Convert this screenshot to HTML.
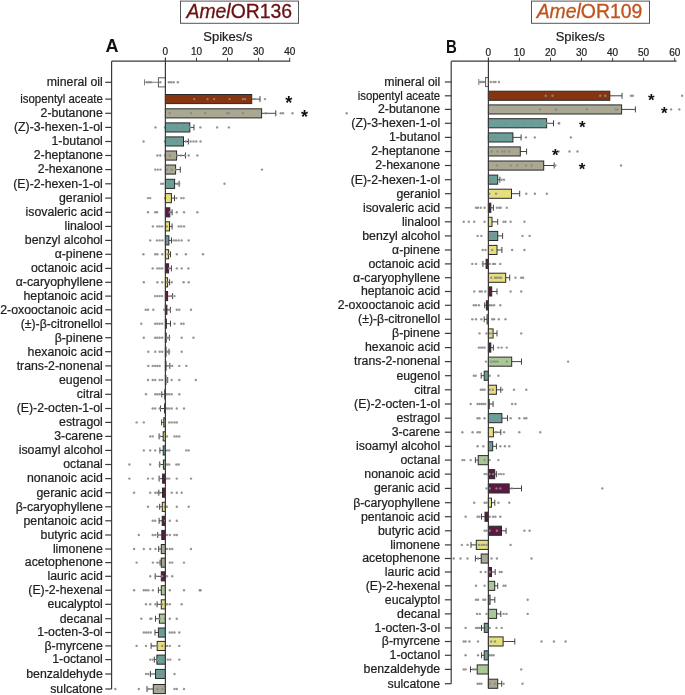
<!DOCTYPE html>
<html><head><meta charset="utf-8"><style>
html,body{margin:0;padding:0;background:#fff;}
svg{display:block;filter:blur(0.3px);font-family:"Liberation Sans",sans-serif;}
text.l{stroke:#1e1e1e;stroke-width:0.22px;}
</style></head><body>
<svg width="685" height="695" viewBox="0 0 685 695">
<rect x="0" y="0" width="685" height="695" fill="#fff"/>
<rect x="180.5" y="1.1" width="118" height="22.2" fill="#fff" stroke="#555" stroke-width="1"/>
<text x="239.3" y="18.2" text-anchor="middle" font-size="19.4" fill="#6a1010" stroke="#6a1010" stroke-width="0.3"><tspan font-style="italic">Amel</tspan>OR136</text>
<rect x="531.5" y="1.1" width="118" height="22.2" fill="#fff" stroke="#555" stroke-width="1"/>
<text x="589.5" y="18.2" text-anchor="middle" font-size="19.4" fill="#c0531c" stroke="#c0531c" stroke-width="0.3"><tspan font-style="italic">Amel</tspan>OR109</text>
<text x="105.5" y="52.3" font-size="18" font-weight="bold" fill="#111">A</text>
<text transform="matrix(0.83,0,0,1,75.82,0)" x="446" y="52.8" font-size="18" font-weight="bold" fill="#111">B</text>
<text x="227.9" y="40.8" text-anchor="middle" font-size="13" fill="#1e1e1e" class="l">Spikes/s</text>
<text x="580.2" y="41.1" text-anchor="middle" font-size="13" fill="#1e1e1e" class="l">Spikes/s</text>
<line x1="158.4" y1="82.3" x2="144.5" y2="82.3" stroke="#777" stroke-width="0.95"/>
<line x1="144.5" y1="79.3" x2="144.5" y2="85.3" stroke="#777" stroke-width="0.95"/>
<rect x="158.4" y="77.8" width="7.0" height="9.1" fill="#ffffff" stroke="#5a5a5a" stroke-width="1"/>
<line x1="251.7" y1="99.1" x2="260.0" y2="99.1" stroke="#3a3a3a" stroke-width="0.95"/>
<line x1="260.0" y1="96.1" x2="260.0" y2="102.1" stroke="#3a3a3a" stroke-width="0.95"/>
<rect x="165.4" y="94.5" width="86.3" height="9.1" fill="#873510" stroke="#2a2a2a" stroke-width="1"/>
<line x1="261.6" y1="113.3" x2="275.8" y2="113.3" stroke="#3a3a3a" stroke-width="0.95"/>
<line x1="275.8" y1="110.3" x2="275.8" y2="116.3" stroke="#3a3a3a" stroke-width="0.95"/>
<rect x="165.4" y="108.8" width="96.2" height="9.1" fill="#aaa892" stroke="#2a2a2a" stroke-width="1"/>
<line x1="189.8" y1="127.4" x2="194.0" y2="127.4" stroke="#3a3a3a" stroke-width="0.95"/>
<line x1="194.0" y1="124.4" x2="194.0" y2="130.4" stroke="#3a3a3a" stroke-width="0.95"/>
<rect x="165.4" y="122.9" width="24.4" height="9.1" fill="#6a9e98" stroke="#2a2a2a" stroke-width="1"/>
<line x1="183.5" y1="141.5" x2="188.3" y2="141.5" stroke="#3a3a3a" stroke-width="0.95"/>
<line x1="188.3" y1="138.5" x2="188.3" y2="144.5" stroke="#3a3a3a" stroke-width="0.95"/>
<rect x="165.4" y="136.9" width="18.1" height="9.1" fill="#6a9e98" stroke="#2a2a2a" stroke-width="1"/>
<line x1="176.6" y1="155.5" x2="185.5" y2="155.5" stroke="#3a3a3a" stroke-width="0.95"/>
<line x1="185.5" y1="152.5" x2="185.5" y2="158.5" stroke="#3a3a3a" stroke-width="0.95"/>
<rect x="165.4" y="151.0" width="11.2" height="9.1" fill="#aaa892" stroke="#2a2a2a" stroke-width="1"/>
<line x1="175.6" y1="169.6" x2="180.3" y2="169.6" stroke="#3a3a3a" stroke-width="0.95"/>
<line x1="180.3" y1="166.6" x2="180.3" y2="172.6" stroke="#3a3a3a" stroke-width="0.95"/>
<rect x="165.4" y="165.0" width="10.2" height="9.1" fill="#aaa892" stroke="#2a2a2a" stroke-width="1"/>
<line x1="174.6" y1="183.8" x2="179.1" y2="183.8" stroke="#3a3a3a" stroke-width="0.95"/>
<line x1="179.1" y1="180.8" x2="179.1" y2="186.8" stroke="#3a3a3a" stroke-width="0.95"/>
<rect x="165.4" y="179.3" width="9.2" height="9.1" fill="#6a9e98" stroke="#2a2a2a" stroke-width="1"/>
<line x1="171.4" y1="198.1" x2="174.5" y2="198.1" stroke="#3a3a3a" stroke-width="0.95"/>
<line x1="174.5" y1="195.1" x2="174.5" y2="201.1" stroke="#3a3a3a" stroke-width="0.95"/>
<rect x="165.4" y="193.6" width="6.0" height="9.1" fill="#e6e07c" stroke="#2a2a2a" stroke-width="1"/>
<line x1="169.8" y1="212.3" x2="172.1" y2="212.3" stroke="#3a3a3a" stroke-width="0.95"/>
<line x1="172.1" y1="209.3" x2="172.1" y2="215.3" stroke="#3a3a3a" stroke-width="0.95"/>
<rect x="165.4" y="207.8" width="4.4" height="9.1" fill="#5c1a40" stroke="#2a2a2a" stroke-width="1"/>
<line x1="169.5" y1="226.4" x2="172.1" y2="226.4" stroke="#3a3a3a" stroke-width="0.95"/>
<line x1="172.1" y1="223.4" x2="172.1" y2="229.4" stroke="#3a3a3a" stroke-width="0.95"/>
<rect x="165.4" y="221.8" width="4.1" height="9.1" fill="#e6e07c" stroke="#2a2a2a" stroke-width="1"/>
<line x1="168.9" y1="240.4" x2="171.5" y2="240.4" stroke="#3a3a3a" stroke-width="0.95"/>
<line x1="171.5" y1="237.4" x2="171.5" y2="243.4" stroke="#3a3a3a" stroke-width="0.95"/>
<rect x="165.4" y="235.8" width="3.5" height="9.1" fill="#6a9e98" stroke="#2a2a2a" stroke-width="1"/>
<line x1="168.6" y1="254.3" x2="170.5" y2="254.3" stroke="#3a3a3a" stroke-width="0.95"/>
<line x1="170.5" y1="251.3" x2="170.5" y2="257.3" stroke="#3a3a3a" stroke-width="0.95"/>
<rect x="165.4" y="249.7" width="3.2" height="9.1" fill="#e6e07c" stroke="#2a2a2a" stroke-width="1"/>
<line x1="168.6" y1="268.4" x2="171.4" y2="268.4" stroke="#3a3a3a" stroke-width="0.95"/>
<line x1="171.4" y1="265.4" x2="171.4" y2="271.4" stroke="#3a3a3a" stroke-width="0.95"/>
<rect x="165.4" y="263.8" width="3.2" height="9.1" fill="#5c1a40" stroke="#2a2a2a" stroke-width="1"/>
<line x1="167.6" y1="282.3" x2="169.6" y2="282.3" stroke="#3a3a3a" stroke-width="0.95"/>
<line x1="169.6" y1="279.3" x2="169.6" y2="285.3" stroke="#3a3a3a" stroke-width="0.95"/>
<rect x="165.4" y="277.8" width="2.2" height="9.1" fill="#e6e07c" stroke="#2a2a2a" stroke-width="1"/>
<line x1="167.6" y1="296.1" x2="172.6" y2="296.1" stroke="#3a3a3a" stroke-width="0.95"/>
<line x1="172.6" y1="293.1" x2="172.6" y2="299.1" stroke="#3a3a3a" stroke-width="0.95"/>
<rect x="165.4" y="291.5" width="2.2" height="9.1" fill="#5c1a40" stroke="#2a2a2a" stroke-width="1"/>
<line x1="166.9" y1="309.8" x2="170.4" y2="309.8" stroke="#3a3a3a" stroke-width="0.95"/>
<line x1="170.4" y1="306.8" x2="170.4" y2="312.8" stroke="#3a3a3a" stroke-width="0.95"/>
<rect x="165.4" y="305.2" width="1.5" height="9.1" fill="#5c1a40" stroke="#2a2a2a" stroke-width="1"/>
<line x1="166.4" y1="323.7" x2="170.5" y2="323.7" stroke="#3a3a3a" stroke-width="0.95"/>
<line x1="170.5" y1="320.7" x2="170.5" y2="326.7" stroke="#3a3a3a" stroke-width="0.95"/>
<rect x="165.4" y="319.1" width="1.0" height="9.1" fill="#c9c47a" stroke="#2a2a2a" stroke-width="1"/>
<line x1="166.2" y1="337.7" x2="169.4" y2="337.7" stroke="#3a3a3a" stroke-width="0.95"/>
<line x1="169.4" y1="334.7" x2="169.4" y2="340.7" stroke="#3a3a3a" stroke-width="0.95"/>
<rect x="165.4" y="333.1" width="0.8" height="9.1" fill="#e6e07c" stroke="#2a2a2a" stroke-width="1"/>
<line x1="166.0" y1="351.7" x2="169.0" y2="351.7" stroke="#3a3a3a" stroke-width="0.95"/>
<line x1="169.0" y1="348.7" x2="169.0" y2="354.7" stroke="#3a3a3a" stroke-width="0.95"/>
<rect x="165.4" y="347.2" width="0.6" height="9.1" fill="#5c1a40" stroke="#2a2a2a" stroke-width="1"/>
<line x1="166.0" y1="365.9" x2="169.8" y2="365.9" stroke="#3a3a3a" stroke-width="0.95"/>
<line x1="169.8" y1="362.9" x2="169.8" y2="368.9" stroke="#3a3a3a" stroke-width="0.95"/>
<rect x="165.4" y="361.3" width="0.6" height="9.1" fill="#abc796" stroke="#2a2a2a" stroke-width="1"/>
<line x1="165.9" y1="380.0" x2="167.7" y2="380.0" stroke="#3a3a3a" stroke-width="0.95"/>
<line x1="167.7" y1="377.0" x2="167.7" y2="383.0" stroke="#3a3a3a" stroke-width="0.95"/>
<rect x="165.4" y="375.4" width="0.5" height="9.1" fill="#6a9e98" stroke="#2a2a2a" stroke-width="1"/>
<line x1="164.8" y1="394.3" x2="161.8" y2="394.3" stroke="#3a3a3a" stroke-width="0.95"/>
<line x1="161.8" y1="391.3" x2="161.8" y2="397.3" stroke="#3a3a3a" stroke-width="0.95"/>
<rect x="164.8" y="389.8" width="0.6" height="9.1" fill="#e6e07c" stroke="#2a2a2a" stroke-width="1"/>
<line x1="164.6" y1="408.5" x2="160.5" y2="408.5" stroke="#3a3a3a" stroke-width="0.95"/>
<line x1="160.5" y1="405.5" x2="160.5" y2="411.5" stroke="#3a3a3a" stroke-width="0.95"/>
<rect x="164.6" y="403.9" width="0.8" height="9.1" fill="#6a9e98" stroke="#2a2a2a" stroke-width="1"/>
<line x1="163.8" y1="422.4" x2="161.6" y2="422.4" stroke="#3a3a3a" stroke-width="0.95"/>
<line x1="161.6" y1="419.4" x2="161.6" y2="425.4" stroke="#3a3a3a" stroke-width="0.95"/>
<rect x="163.8" y="417.8" width="1.6" height="9.1" fill="#c9c47a" stroke="#2a2a2a" stroke-width="1"/>
<line x1="163.2" y1="436.4" x2="159.1" y2="436.4" stroke="#3a3a3a" stroke-width="0.95"/>
<line x1="159.1" y1="433.4" x2="159.1" y2="439.4" stroke="#3a3a3a" stroke-width="0.95"/>
<rect x="163.2" y="431.8" width="2.2" height="9.1" fill="#e6e07c" stroke="#2a2a2a" stroke-width="1"/>
<line x1="163.2" y1="450.4" x2="159.9" y2="450.4" stroke="#3a3a3a" stroke-width="0.95"/>
<line x1="159.9" y1="447.4" x2="159.9" y2="453.4" stroke="#3a3a3a" stroke-width="0.95"/>
<rect x="163.2" y="445.9" width="2.2" height="9.1" fill="#6a9e98" stroke="#2a2a2a" stroke-width="1"/>
<line x1="163.4" y1="464.5" x2="159.7" y2="464.5" stroke="#3a3a3a" stroke-width="0.95"/>
<line x1="159.7" y1="461.5" x2="159.7" y2="467.5" stroke="#3a3a3a" stroke-width="0.95"/>
<rect x="163.4" y="460.0" width="2.0" height="9.1" fill="#abc796" stroke="#2a2a2a" stroke-width="1"/>
<line x1="162.6" y1="478.6" x2="159.1" y2="478.6" stroke="#3a3a3a" stroke-width="0.95"/>
<line x1="159.1" y1="475.6" x2="159.1" y2="481.6" stroke="#3a3a3a" stroke-width="0.95"/>
<rect x="162.6" y="474.1" width="2.8" height="9.1" fill="#5c1a40" stroke="#2a2a2a" stroke-width="1"/>
<line x1="162.5" y1="492.7" x2="158.8" y2="492.7" stroke="#3a3a3a" stroke-width="0.95"/>
<line x1="158.8" y1="489.7" x2="158.8" y2="495.7" stroke="#3a3a3a" stroke-width="0.95"/>
<rect x="162.5" y="488.1" width="2.9" height="9.1" fill="#5c1a40" stroke="#2a2a2a" stroke-width="1"/>
<line x1="162.3" y1="506.8" x2="159.7" y2="506.8" stroke="#3a3a3a" stroke-width="0.95"/>
<line x1="159.7" y1="503.8" x2="159.7" y2="509.8" stroke="#3a3a3a" stroke-width="0.95"/>
<rect x="162.3" y="502.3" width="3.1" height="9.1" fill="#e6e07c" stroke="#2a2a2a" stroke-width="1"/>
<line x1="162.2" y1="520.8" x2="159.1" y2="520.8" stroke="#3a3a3a" stroke-width="0.95"/>
<line x1="159.1" y1="517.8" x2="159.1" y2="523.8" stroke="#3a3a3a" stroke-width="0.95"/>
<rect x="162.2" y="516.3" width="3.2" height="9.1" fill="#5c1a40" stroke="#2a2a2a" stroke-width="1"/>
<line x1="161.8" y1="535.0" x2="157.7" y2="535.0" stroke="#3a3a3a" stroke-width="0.95"/>
<line x1="157.7" y1="532.0" x2="157.7" y2="538.0" stroke="#3a3a3a" stroke-width="0.95"/>
<rect x="161.8" y="530.4" width="3.6" height="9.1" fill="#5c1a40" stroke="#2a2a2a" stroke-width="1"/>
<line x1="161.3" y1="549.0" x2="158.7" y2="549.0" stroke="#3a3a3a" stroke-width="0.95"/>
<line x1="158.7" y1="546.0" x2="158.7" y2="552.0" stroke="#3a3a3a" stroke-width="0.95"/>
<rect x="161.3" y="544.5" width="4.1" height="9.1" fill="#aaa892" stroke="#2a2a2a" stroke-width="1"/>
<line x1="161.3" y1="562.6" x2="160.1" y2="562.6" stroke="#3a3a3a" stroke-width="0.95"/>
<line x1="160.1" y1="559.6" x2="160.1" y2="565.6" stroke="#3a3a3a" stroke-width="0.95"/>
<rect x="161.3" y="558.1" width="4.1" height="9.1" fill="#aaa892" stroke="#2a2a2a" stroke-width="1"/>
<line x1="161.3" y1="576.3" x2="155.2" y2="576.3" stroke="#3a3a3a" stroke-width="0.95"/>
<line x1="155.2" y1="573.3" x2="155.2" y2="579.3" stroke="#3a3a3a" stroke-width="0.95"/>
<rect x="161.3" y="571.8" width="4.1" height="9.1" fill="#5c1a40" stroke="#2a2a2a" stroke-width="1"/>
<line x1="161.3" y1="590.2" x2="158.4" y2="590.2" stroke="#3a3a3a" stroke-width="0.95"/>
<line x1="158.4" y1="587.2" x2="158.4" y2="593.2" stroke="#3a3a3a" stroke-width="0.95"/>
<rect x="161.3" y="585.7" width="4.1" height="9.1" fill="#abc796" stroke="#2a2a2a" stroke-width="1"/>
<line x1="161.3" y1="604.3" x2="157.1" y2="604.3" stroke="#3a3a3a" stroke-width="0.95"/>
<line x1="157.1" y1="601.3" x2="157.1" y2="607.3" stroke="#3a3a3a" stroke-width="0.95"/>
<rect x="161.3" y="599.8" width="4.1" height="9.1" fill="#e6e07c" stroke="#2a2a2a" stroke-width="1"/>
<line x1="159.4" y1="618.7" x2="155.5" y2="618.7" stroke="#3a3a3a" stroke-width="0.95"/>
<line x1="155.5" y1="615.7" x2="155.5" y2="621.7" stroke="#3a3a3a" stroke-width="0.95"/>
<rect x="159.4" y="614.1" width="6.0" height="9.1" fill="#abc796" stroke="#2a2a2a" stroke-width="1"/>
<line x1="158.4" y1="632.5" x2="155.0" y2="632.5" stroke="#3a3a3a" stroke-width="0.95"/>
<line x1="155.0" y1="629.5" x2="155.0" y2="635.5" stroke="#3a3a3a" stroke-width="0.95"/>
<rect x="158.4" y="628.0" width="7.0" height="9.1" fill="#6a9e98" stroke="#2a2a2a" stroke-width="1"/>
<line x1="157.2" y1="645.9" x2="151.1" y2="645.9" stroke="#3a3a3a" stroke-width="0.95"/>
<line x1="151.1" y1="642.9" x2="151.1" y2="648.9" stroke="#3a3a3a" stroke-width="0.95"/>
<rect x="157.2" y="641.4" width="8.2" height="9.1" fill="#e6e07c" stroke="#2a2a2a" stroke-width="1"/>
<line x1="156.9" y1="659.6" x2="154.3" y2="659.6" stroke="#3a3a3a" stroke-width="0.95"/>
<line x1="154.3" y1="656.6" x2="154.3" y2="662.6" stroke="#3a3a3a" stroke-width="0.95"/>
<rect x="156.9" y="655.1" width="8.5" height="9.1" fill="#6a9e98" stroke="#2a2a2a" stroke-width="1"/>
<line x1="155.5" y1="674.0" x2="150.4" y2="674.0" stroke="#3a3a3a" stroke-width="0.95"/>
<line x1="150.4" y1="671.0" x2="150.4" y2="677.0" stroke="#3a3a3a" stroke-width="0.95"/>
<rect x="155.5" y="669.4" width="9.9" height="9.1" fill="#6a9e98" stroke="#2a2a2a" stroke-width="1"/>
<line x1="153.3" y1="689.0" x2="147.0" y2="689.0" stroke="#3a3a3a" stroke-width="0.95"/>
<line x1="147.0" y1="686.0" x2="147.0" y2="692.0" stroke="#3a3a3a" stroke-width="0.95"/>
<rect x="153.3" y="684.5" width="12.1" height="9.1" fill="#aaa892" stroke="#2a2a2a" stroke-width="1"/>
<circle cx="147.0" cy="82.3" r="1.2" fill="#8a8a8a" fill-opacity="0.9"/>
<circle cx="149.0" cy="82.3" r="1.2" fill="#8a8a8a" fill-opacity="0.9"/>
<circle cx="150.8" cy="82.3" r="1.2" fill="#8a8a8a" fill-opacity="0.9"/>
<circle cx="160.3" cy="82.3" r="1.2" fill="#8a8a8a" fill-opacity="0.9"/>
<circle cx="168.8" cy="82.3" r="1.2" fill="#8a8a8a" fill-opacity="0.9"/>
<circle cx="171.1" cy="82.3" r="1.2" fill="#8a8a8a" fill-opacity="0.9"/>
<circle cx="173.6" cy="82.3" r="1.2" fill="#8a8a8a" fill-opacity="0.9"/>
<circle cx="177.9" cy="82.3" r="1.2" fill="#8a8a8a" fill-opacity="0.9"/>
<circle cx="194.2" cy="99.1" r="1.2" fill="#8a8a8a" fill-opacity="0.9"/>
<circle cx="207.5" cy="99.1" r="1.2" fill="#8a8a8a" fill-opacity="0.9"/>
<circle cx="214.1" cy="99.1" r="1.2" fill="#8a8a8a" fill-opacity="0.9"/>
<circle cx="229.5" cy="99.1" r="1.2" fill="#8a8a8a" fill-opacity="0.9"/>
<circle cx="242.8" cy="99.1" r="1.2" fill="#8a8a8a" fill-opacity="0.9"/>
<circle cx="245.0" cy="99.1" r="1.2" fill="#8a8a8a" fill-opacity="0.9"/>
<circle cx="254.5" cy="99.1" r="1.2" fill="#8a8a8a" fill-opacity="0.9"/>
<circle cx="265.0" cy="99.1" r="1.2" fill="#8a8a8a" fill-opacity="0.9"/>
<circle cx="169.8" cy="113.3" r="1.2" fill="#8a8a8a" fill-opacity="0.9"/>
<circle cx="191.0" cy="113.3" r="1.2" fill="#8a8a8a" fill-opacity="0.9"/>
<circle cx="205.2" cy="113.3" r="1.2" fill="#8a8a8a" fill-opacity="0.9"/>
<circle cx="227.0" cy="113.3" r="1.2" fill="#8a8a8a" fill-opacity="0.9"/>
<circle cx="228.9" cy="113.3" r="1.2" fill="#8a8a8a" fill-opacity="0.9"/>
<circle cx="243.1" cy="113.3" r="1.2" fill="#8a8a8a" fill-opacity="0.9"/>
<circle cx="265.9" cy="113.3" r="1.2" fill="#8a8a8a" fill-opacity="0.9"/>
<circle cx="280.7" cy="113.3" r="1.2" fill="#8a8a8a" fill-opacity="0.9"/>
<circle cx="283.0" cy="113.3" r="1.2" fill="#8a8a8a" fill-opacity="0.9"/>
<circle cx="292.5" cy="113.3" r="1.2" fill="#8a8a8a" fill-opacity="0.9"/>
<circle cx="346.7" cy="113.3" r="1.2" fill="#8a8a8a" fill-opacity="0.9"/>
<circle cx="155.5" cy="127.4" r="1.2" fill="#8a8a8a" fill-opacity="0.9"/>
<circle cx="165.0" cy="127.4" r="1.2" fill="#8a8a8a" fill-opacity="0.9"/>
<circle cx="176.8" cy="127.4" r="1.2" fill="#8a8a8a" fill-opacity="0.9"/>
<circle cx="183.6" cy="127.4" r="1.2" fill="#8a8a8a" fill-opacity="0.9"/>
<circle cx="189.7" cy="127.4" r="1.2" fill="#8a8a8a" fill-opacity="0.9"/>
<circle cx="200.4" cy="127.4" r="1.2" fill="#8a8a8a" fill-opacity="0.9"/>
<circle cx="217.1" cy="127.4" r="1.2" fill="#8a8a8a" fill-opacity="0.9"/>
<circle cx="228.9" cy="127.4" r="1.2" fill="#8a8a8a" fill-opacity="0.9"/>
<circle cx="143.6" cy="141.5" r="1.2" fill="#8a8a8a" fill-opacity="0.9"/>
<circle cx="165.0" cy="141.5" r="1.2" fill="#8a8a8a" fill-opacity="0.9"/>
<circle cx="176.8" cy="141.5" r="1.2" fill="#8a8a8a" fill-opacity="0.9"/>
<circle cx="181.7" cy="141.5" r="1.2" fill="#8a8a8a" fill-opacity="0.9"/>
<circle cx="185.9" cy="141.5" r="1.2" fill="#8a8a8a" fill-opacity="0.9"/>
<circle cx="190.6" cy="141.5" r="1.2" fill="#8a8a8a" fill-opacity="0.9"/>
<circle cx="193.5" cy="141.5" r="1.2" fill="#8a8a8a" fill-opacity="0.9"/>
<circle cx="196.3" cy="141.5" r="1.2" fill="#8a8a8a" fill-opacity="0.9"/>
<circle cx="200.5" cy="141.5" r="1.2" fill="#8a8a8a" fill-opacity="0.9"/>
<circle cx="157.4" cy="155.5" r="1.2" fill="#8a8a8a" fill-opacity="0.9"/>
<circle cx="160.3" cy="155.5" r="1.2" fill="#8a8a8a" fill-opacity="0.9"/>
<circle cx="165.0" cy="155.5" r="1.2" fill="#8a8a8a" fill-opacity="0.9"/>
<circle cx="169.8" cy="155.5" r="1.2" fill="#8a8a8a" fill-opacity="0.9"/>
<circle cx="177.4" cy="155.5" r="1.2" fill="#8a8a8a" fill-opacity="0.9"/>
<circle cx="181.0" cy="155.5" r="1.2" fill="#8a8a8a" fill-opacity="0.9"/>
<circle cx="185.0" cy="155.5" r="1.2" fill="#8a8a8a" fill-opacity="0.9"/>
<circle cx="188.7" cy="155.5" r="1.2" fill="#8a8a8a" fill-opacity="0.9"/>
<circle cx="197.4" cy="155.5" r="1.2" fill="#8a8a8a" fill-opacity="0.9"/>
<circle cx="155.2" cy="169.6" r="1.2" fill="#8a8a8a" fill-opacity="0.9"/>
<circle cx="157.8" cy="169.6" r="1.2" fill="#8a8a8a" fill-opacity="0.9"/>
<circle cx="160.5" cy="169.6" r="1.2" fill="#8a8a8a" fill-opacity="0.9"/>
<circle cx="166.9" cy="169.6" r="1.2" fill="#8a8a8a" fill-opacity="0.9"/>
<circle cx="171.7" cy="169.6" r="1.2" fill="#8a8a8a" fill-opacity="0.9"/>
<circle cx="175.5" cy="169.6" r="1.2" fill="#8a8a8a" fill-opacity="0.9"/>
<circle cx="262.0" cy="169.6" r="1.2" fill="#8a8a8a" fill-opacity="0.9"/>
<circle cx="161.2" cy="183.8" r="1.2" fill="#8a8a8a" fill-opacity="0.9"/>
<circle cx="163.1" cy="183.8" r="1.2" fill="#8a8a8a" fill-opacity="0.9"/>
<circle cx="168.8" cy="183.8" r="1.2" fill="#8a8a8a" fill-opacity="0.9"/>
<circle cx="177.4" cy="183.8" r="1.2" fill="#8a8a8a" fill-opacity="0.9"/>
<circle cx="179.3" cy="183.8" r="1.2" fill="#8a8a8a" fill-opacity="0.9"/>
<circle cx="224.5" cy="183.8" r="1.2" fill="#8a8a8a" fill-opacity="0.9"/>
<circle cx="148.0" cy="198.1" r="1.2" fill="#8a8a8a" fill-opacity="0.9"/>
<circle cx="150.2" cy="198.1" r="1.2" fill="#8a8a8a" fill-opacity="0.9"/>
<circle cx="165.0" cy="198.1" r="1.2" fill="#8a8a8a" fill-opacity="0.9"/>
<circle cx="176.4" cy="198.1" r="1.2" fill="#8a8a8a" fill-opacity="0.9"/>
<circle cx="181.2" cy="198.1" r="1.2" fill="#8a8a8a" fill-opacity="0.9"/>
<circle cx="183.6" cy="198.1" r="1.2" fill="#8a8a8a" fill-opacity="0.9"/>
<circle cx="148.0" cy="212.3" r="1.2" fill="#8a8a8a" fill-opacity="0.9"/>
<circle cx="155.2" cy="212.3" r="1.2" fill="#8a8a8a" fill-opacity="0.9"/>
<circle cx="157.0" cy="212.3" r="1.2" fill="#8a8a8a" fill-opacity="0.9"/>
<circle cx="169.8" cy="212.3" r="1.2" fill="#8a8a8a" fill-opacity="0.9"/>
<circle cx="176.8" cy="212.3" r="1.2" fill="#8a8a8a" fill-opacity="0.9"/>
<circle cx="184.0" cy="212.3" r="1.2" fill="#8a8a8a" fill-opacity="0.9"/>
<circle cx="197.4" cy="212.3" r="1.2" fill="#8a8a8a" fill-opacity="0.9"/>
<circle cx="152.9" cy="226.4" r="1.2" fill="#8a8a8a" fill-opacity="0.9"/>
<circle cx="157.4" cy="226.4" r="1.2" fill="#8a8a8a" fill-opacity="0.9"/>
<circle cx="159.7" cy="226.4" r="1.2" fill="#8a8a8a" fill-opacity="0.9"/>
<circle cx="162.2" cy="226.4" r="1.2" fill="#8a8a8a" fill-opacity="0.9"/>
<circle cx="166.9" cy="226.4" r="1.2" fill="#8a8a8a" fill-opacity="0.9"/>
<circle cx="178.7" cy="226.4" r="1.2" fill="#8a8a8a" fill-opacity="0.9"/>
<circle cx="181.2" cy="226.4" r="1.2" fill="#8a8a8a" fill-opacity="0.9"/>
<circle cx="184.0" cy="226.4" r="1.2" fill="#8a8a8a" fill-opacity="0.9"/>
<circle cx="150.2" cy="240.4" r="1.2" fill="#8a8a8a" fill-opacity="0.9"/>
<circle cx="157.0" cy="240.4" r="1.2" fill="#8a8a8a" fill-opacity="0.9"/>
<circle cx="159.7" cy="240.4" r="1.2" fill="#8a8a8a" fill-opacity="0.9"/>
<circle cx="162.4" cy="240.4" r="1.2" fill="#8a8a8a" fill-opacity="0.9"/>
<circle cx="166.9" cy="240.4" r="1.2" fill="#8a8a8a" fill-opacity="0.9"/>
<circle cx="173.6" cy="240.4" r="1.2" fill="#8a8a8a" fill-opacity="0.9"/>
<circle cx="176.0" cy="240.4" r="1.2" fill="#8a8a8a" fill-opacity="0.9"/>
<circle cx="178.7" cy="240.4" r="1.2" fill="#8a8a8a" fill-opacity="0.9"/>
<circle cx="181.7" cy="240.4" r="1.2" fill="#8a8a8a" fill-opacity="0.9"/>
<circle cx="188.7" cy="240.4" r="1.2" fill="#8a8a8a" fill-opacity="0.9"/>
<circle cx="143.4" cy="254.3" r="1.2" fill="#8a8a8a" fill-opacity="0.9"/>
<circle cx="155.2" cy="254.3" r="1.2" fill="#8a8a8a" fill-opacity="0.9"/>
<circle cx="157.4" cy="254.3" r="1.2" fill="#8a8a8a" fill-opacity="0.9"/>
<circle cx="162.2" cy="254.3" r="1.2" fill="#8a8a8a" fill-opacity="0.9"/>
<circle cx="167.9" cy="254.3" r="1.2" fill="#8a8a8a" fill-opacity="0.9"/>
<circle cx="176.8" cy="254.3" r="1.2" fill="#8a8a8a" fill-opacity="0.9"/>
<circle cx="185.9" cy="254.3" r="1.2" fill="#8a8a8a" fill-opacity="0.9"/>
<circle cx="203.0" cy="254.3" r="1.2" fill="#8a8a8a" fill-opacity="0.9"/>
<circle cx="152.7" cy="268.4" r="1.2" fill="#8a8a8a" fill-opacity="0.9"/>
<circle cx="157.4" cy="268.4" r="1.2" fill="#8a8a8a" fill-opacity="0.9"/>
<circle cx="159.7" cy="268.4" r="1.2" fill="#8a8a8a" fill-opacity="0.9"/>
<circle cx="162.2" cy="268.4" r="1.2" fill="#8a8a8a" fill-opacity="0.9"/>
<circle cx="169.2" cy="268.4" r="1.2" fill="#8a8a8a" fill-opacity="0.9"/>
<circle cx="176.8" cy="268.4" r="1.2" fill="#8a8a8a" fill-opacity="0.9"/>
<circle cx="181.7" cy="268.4" r="1.2" fill="#8a8a8a" fill-opacity="0.9"/>
<circle cx="188.4" cy="268.4" r="1.2" fill="#8a8a8a" fill-opacity="0.9"/>
<circle cx="143.8" cy="282.3" r="1.2" fill="#8a8a8a" fill-opacity="0.9"/>
<circle cx="157.4" cy="282.3" r="1.2" fill="#8a8a8a" fill-opacity="0.9"/>
<circle cx="162.2" cy="282.3" r="1.2" fill="#8a8a8a" fill-opacity="0.9"/>
<circle cx="166.9" cy="282.3" r="1.2" fill="#8a8a8a" fill-opacity="0.9"/>
<circle cx="171.7" cy="282.3" r="1.2" fill="#8a8a8a" fill-opacity="0.9"/>
<circle cx="183.6" cy="282.3" r="1.2" fill="#8a8a8a" fill-opacity="0.9"/>
<circle cx="188.7" cy="282.3" r="1.2" fill="#8a8a8a" fill-opacity="0.9"/>
<circle cx="155.2" cy="296.1" r="1.2" fill="#8a8a8a" fill-opacity="0.9"/>
<circle cx="157.4" cy="296.1" r="1.2" fill="#8a8a8a" fill-opacity="0.9"/>
<circle cx="159.7" cy="296.1" r="1.2" fill="#8a8a8a" fill-opacity="0.9"/>
<circle cx="162.2" cy="296.1" r="1.2" fill="#8a8a8a" fill-opacity="0.9"/>
<circle cx="171.7" cy="296.1" r="1.2" fill="#8a8a8a" fill-opacity="0.9"/>
<circle cx="174.5" cy="296.1" r="1.2" fill="#8a8a8a" fill-opacity="0.9"/>
<circle cx="145.7" cy="309.8" r="1.2" fill="#8a8a8a" fill-opacity="0.9"/>
<circle cx="148.0" cy="309.8" r="1.2" fill="#8a8a8a" fill-opacity="0.9"/>
<circle cx="153.3" cy="309.8" r="1.2" fill="#8a8a8a" fill-opacity="0.9"/>
<circle cx="164.1" cy="309.8" r="1.2" fill="#8a8a8a" fill-opacity="0.9"/>
<circle cx="169.8" cy="309.8" r="1.2" fill="#8a8a8a" fill-opacity="0.9"/>
<circle cx="176.8" cy="309.8" r="1.2" fill="#8a8a8a" fill-opacity="0.9"/>
<circle cx="179.3" cy="309.8" r="1.2" fill="#8a8a8a" fill-opacity="0.9"/>
<circle cx="191.0" cy="309.8" r="1.2" fill="#8a8a8a" fill-opacity="0.9"/>
<circle cx="141.3" cy="323.7" r="1.2" fill="#8a8a8a" fill-opacity="0.9"/>
<circle cx="155.2" cy="323.7" r="1.2" fill="#8a8a8a" fill-opacity="0.9"/>
<circle cx="157.4" cy="323.7" r="1.2" fill="#8a8a8a" fill-opacity="0.9"/>
<circle cx="159.7" cy="323.7" r="1.2" fill="#8a8a8a" fill-opacity="0.9"/>
<circle cx="162.2" cy="323.7" r="1.2" fill="#8a8a8a" fill-opacity="0.9"/>
<circle cx="174.5" cy="323.7" r="1.2" fill="#8a8a8a" fill-opacity="0.9"/>
<circle cx="181.2" cy="323.7" r="1.2" fill="#8a8a8a" fill-opacity="0.9"/>
<circle cx="183.6" cy="323.7" r="1.2" fill="#8a8a8a" fill-opacity="0.9"/>
<circle cx="143.8" cy="337.7" r="1.2" fill="#8a8a8a" fill-opacity="0.9"/>
<circle cx="155.2" cy="337.7" r="1.2" fill="#8a8a8a" fill-opacity="0.9"/>
<circle cx="157.4" cy="337.7" r="1.2" fill="#8a8a8a" fill-opacity="0.9"/>
<circle cx="159.7" cy="337.7" r="1.2" fill="#8a8a8a" fill-opacity="0.9"/>
<circle cx="162.2" cy="337.7" r="1.2" fill="#8a8a8a" fill-opacity="0.9"/>
<circle cx="166.9" cy="337.7" r="1.2" fill="#8a8a8a" fill-opacity="0.9"/>
<circle cx="169.2" cy="337.7" r="1.2" fill="#8a8a8a" fill-opacity="0.9"/>
<circle cx="181.7" cy="337.7" r="1.2" fill="#8a8a8a" fill-opacity="0.9"/>
<circle cx="193.5" cy="337.7" r="1.2" fill="#8a8a8a" fill-opacity="0.9"/>
<circle cx="148.3" cy="351.7" r="1.2" fill="#8a8a8a" fill-opacity="0.9"/>
<circle cx="155.2" cy="351.7" r="1.2" fill="#8a8a8a" fill-opacity="0.9"/>
<circle cx="159.7" cy="351.7" r="1.2" fill="#8a8a8a" fill-opacity="0.9"/>
<circle cx="162.2" cy="351.7" r="1.2" fill="#8a8a8a" fill-opacity="0.9"/>
<circle cx="166.9" cy="351.7" r="1.2" fill="#8a8a8a" fill-opacity="0.9"/>
<circle cx="169.2" cy="351.7" r="1.2" fill="#8a8a8a" fill-opacity="0.9"/>
<circle cx="181.7" cy="351.7" r="1.2" fill="#8a8a8a" fill-opacity="0.9"/>
<circle cx="148.3" cy="365.9" r="1.2" fill="#8a8a8a" fill-opacity="0.9"/>
<circle cx="152.7" cy="365.9" r="1.2" fill="#8a8a8a" fill-opacity="0.9"/>
<circle cx="155.2" cy="365.9" r="1.2" fill="#8a8a8a" fill-opacity="0.9"/>
<circle cx="157.4" cy="365.9" r="1.2" fill="#8a8a8a" fill-opacity="0.9"/>
<circle cx="159.7" cy="365.9" r="1.2" fill="#8a8a8a" fill-opacity="0.9"/>
<circle cx="169.8" cy="365.9" r="1.2" fill="#8a8a8a" fill-opacity="0.9"/>
<circle cx="172.2" cy="365.9" r="1.2" fill="#8a8a8a" fill-opacity="0.9"/>
<circle cx="179.3" cy="365.9" r="1.2" fill="#8a8a8a" fill-opacity="0.9"/>
<circle cx="186.3" cy="365.9" r="1.2" fill="#8a8a8a" fill-opacity="0.9"/>
<circle cx="148.0" cy="380.0" r="1.2" fill="#8a8a8a" fill-opacity="0.9"/>
<circle cx="152.7" cy="380.0" r="1.2" fill="#8a8a8a" fill-opacity="0.9"/>
<circle cx="155.2" cy="380.0" r="1.2" fill="#8a8a8a" fill-opacity="0.9"/>
<circle cx="159.7" cy="380.0" r="1.2" fill="#8a8a8a" fill-opacity="0.9"/>
<circle cx="162.2" cy="380.0" r="1.2" fill="#8a8a8a" fill-opacity="0.9"/>
<circle cx="166.9" cy="380.0" r="1.2" fill="#8a8a8a" fill-opacity="0.9"/>
<circle cx="171.7" cy="380.0" r="1.2" fill="#8a8a8a" fill-opacity="0.9"/>
<circle cx="179.3" cy="380.0" r="1.2" fill="#8a8a8a" fill-opacity="0.9"/>
<circle cx="195.8" cy="380.0" r="1.2" fill="#8a8a8a" fill-opacity="0.9"/>
<circle cx="146.0" cy="394.3" r="1.2" fill="#8a8a8a" fill-opacity="0.9"/>
<circle cx="155.2" cy="394.3" r="1.2" fill="#8a8a8a" fill-opacity="0.9"/>
<circle cx="157.4" cy="394.3" r="1.2" fill="#8a8a8a" fill-opacity="0.9"/>
<circle cx="159.7" cy="394.3" r="1.2" fill="#8a8a8a" fill-opacity="0.9"/>
<circle cx="166.9" cy="394.3" r="1.2" fill="#8a8a8a" fill-opacity="0.9"/>
<circle cx="169.2" cy="394.3" r="1.2" fill="#8a8a8a" fill-opacity="0.9"/>
<circle cx="171.7" cy="394.3" r="1.2" fill="#8a8a8a" fill-opacity="0.9"/>
<circle cx="179.3" cy="394.3" r="1.2" fill="#8a8a8a" fill-opacity="0.9"/>
<circle cx="152.7" cy="408.5" r="1.2" fill="#8a8a8a" fill-opacity="0.9"/>
<circle cx="155.2" cy="408.5" r="1.2" fill="#8a8a8a" fill-opacity="0.9"/>
<circle cx="159.7" cy="408.5" r="1.2" fill="#8a8a8a" fill-opacity="0.9"/>
<circle cx="166.9" cy="408.5" r="1.2" fill="#8a8a8a" fill-opacity="0.9"/>
<circle cx="169.2" cy="408.5" r="1.2" fill="#8a8a8a" fill-opacity="0.9"/>
<circle cx="171.7" cy="408.5" r="1.2" fill="#8a8a8a" fill-opacity="0.9"/>
<circle cx="176.8" cy="408.5" r="1.2" fill="#8a8a8a" fill-opacity="0.9"/>
<circle cx="184.0" cy="408.5" r="1.2" fill="#8a8a8a" fill-opacity="0.9"/>
<circle cx="136.6" cy="422.4" r="1.2" fill="#8a8a8a" fill-opacity="0.9"/>
<circle cx="143.8" cy="422.4" r="1.2" fill="#8a8a8a" fill-opacity="0.9"/>
<circle cx="169.2" cy="422.4" r="1.2" fill="#8a8a8a" fill-opacity="0.9"/>
<circle cx="171.7" cy="422.4" r="1.2" fill="#8a8a8a" fill-opacity="0.9"/>
<circle cx="174.5" cy="422.4" r="1.2" fill="#8a8a8a" fill-opacity="0.9"/>
<circle cx="176.8" cy="422.4" r="1.2" fill="#8a8a8a" fill-opacity="0.9"/>
<circle cx="150.2" cy="436.4" r="1.2" fill="#8a8a8a" fill-opacity="0.9"/>
<circle cx="152.7" cy="436.4" r="1.2" fill="#8a8a8a" fill-opacity="0.9"/>
<circle cx="159.7" cy="436.4" r="1.2" fill="#8a8a8a" fill-opacity="0.9"/>
<circle cx="166.9" cy="436.4" r="1.2" fill="#8a8a8a" fill-opacity="0.9"/>
<circle cx="174.5" cy="436.4" r="1.2" fill="#8a8a8a" fill-opacity="0.9"/>
<circle cx="176.8" cy="436.4" r="1.2" fill="#8a8a8a" fill-opacity="0.9"/>
<circle cx="179.3" cy="436.4" r="1.2" fill="#8a8a8a" fill-opacity="0.9"/>
<circle cx="143.8" cy="450.4" r="1.2" fill="#8a8a8a" fill-opacity="0.9"/>
<circle cx="150.2" cy="450.4" r="1.2" fill="#8a8a8a" fill-opacity="0.9"/>
<circle cx="155.2" cy="450.4" r="1.2" fill="#8a8a8a" fill-opacity="0.9"/>
<circle cx="166.9" cy="450.4" r="1.2" fill="#8a8a8a" fill-opacity="0.9"/>
<circle cx="169.2" cy="450.4" r="1.2" fill="#8a8a8a" fill-opacity="0.9"/>
<circle cx="186.3" cy="450.4" r="1.2" fill="#8a8a8a" fill-opacity="0.9"/>
<circle cx="188.7" cy="450.4" r="1.2" fill="#8a8a8a" fill-opacity="0.9"/>
<circle cx="129.4" cy="464.5" r="1.2" fill="#8a8a8a" fill-opacity="0.9"/>
<circle cx="150.2" cy="464.5" r="1.2" fill="#8a8a8a" fill-opacity="0.9"/>
<circle cx="159.7" cy="464.5" r="1.2" fill="#8a8a8a" fill-opacity="0.9"/>
<circle cx="166.9" cy="464.5" r="1.2" fill="#8a8a8a" fill-opacity="0.9"/>
<circle cx="169.2" cy="464.5" r="1.2" fill="#8a8a8a" fill-opacity="0.9"/>
<circle cx="176.4" cy="464.5" r="1.2" fill="#8a8a8a" fill-opacity="0.9"/>
<circle cx="178.7" cy="464.5" r="1.2" fill="#8a8a8a" fill-opacity="0.9"/>
<circle cx="129.4" cy="478.6" r="1.2" fill="#8a8a8a" fill-opacity="0.9"/>
<circle cx="148.0" cy="478.6" r="1.2" fill="#8a8a8a" fill-opacity="0.9"/>
<circle cx="152.7" cy="478.6" r="1.2" fill="#8a8a8a" fill-opacity="0.9"/>
<circle cx="159.7" cy="478.6" r="1.2" fill="#8a8a8a" fill-opacity="0.9"/>
<circle cx="166.9" cy="478.6" r="1.2" fill="#8a8a8a" fill-opacity="0.9"/>
<circle cx="169.2" cy="478.6" r="1.2" fill="#8a8a8a" fill-opacity="0.9"/>
<circle cx="176.8" cy="478.6" r="1.2" fill="#8a8a8a" fill-opacity="0.9"/>
<circle cx="191.0" cy="478.6" r="1.2" fill="#8a8a8a" fill-opacity="0.9"/>
<circle cx="134.1" cy="492.7" r="1.2" fill="#8a8a8a" fill-opacity="0.9"/>
<circle cx="150.2" cy="492.7" r="1.2" fill="#8a8a8a" fill-opacity="0.9"/>
<circle cx="155.2" cy="492.7" r="1.2" fill="#8a8a8a" fill-opacity="0.9"/>
<circle cx="157.4" cy="492.7" r="1.2" fill="#8a8a8a" fill-opacity="0.9"/>
<circle cx="159.7" cy="492.7" r="1.2" fill="#8a8a8a" fill-opacity="0.9"/>
<circle cx="171.7" cy="492.7" r="1.2" fill="#8a8a8a" fill-opacity="0.9"/>
<circle cx="176.8" cy="492.7" r="1.2" fill="#8a8a8a" fill-opacity="0.9"/>
<circle cx="181.7" cy="492.7" r="1.2" fill="#8a8a8a" fill-opacity="0.9"/>
<circle cx="148.0" cy="506.8" r="1.2" fill="#8a8a8a" fill-opacity="0.9"/>
<circle cx="157.4" cy="506.8" r="1.2" fill="#8a8a8a" fill-opacity="0.9"/>
<circle cx="165.0" cy="506.8" r="1.2" fill="#8a8a8a" fill-opacity="0.9"/>
<circle cx="166.9" cy="506.8" r="1.2" fill="#8a8a8a" fill-opacity="0.9"/>
<circle cx="176.8" cy="506.8" r="1.2" fill="#8a8a8a" fill-opacity="0.9"/>
<circle cx="188.7" cy="506.8" r="1.2" fill="#8a8a8a" fill-opacity="0.9"/>
<circle cx="152.7" cy="520.8" r="1.2" fill="#8a8a8a" fill-opacity="0.9"/>
<circle cx="155.2" cy="520.8" r="1.2" fill="#8a8a8a" fill-opacity="0.9"/>
<circle cx="165.0" cy="520.8" r="1.2" fill="#8a8a8a" fill-opacity="0.9"/>
<circle cx="169.8" cy="520.8" r="1.2" fill="#8a8a8a" fill-opacity="0.9"/>
<circle cx="176.8" cy="520.8" r="1.2" fill="#8a8a8a" fill-opacity="0.9"/>
<circle cx="138.8" cy="535.0" r="1.2" fill="#8a8a8a" fill-opacity="0.9"/>
<circle cx="152.7" cy="535.0" r="1.2" fill="#8a8a8a" fill-opacity="0.9"/>
<circle cx="155.2" cy="535.0" r="1.2" fill="#8a8a8a" fill-opacity="0.9"/>
<circle cx="157.8" cy="535.0" r="1.2" fill="#8a8a8a" fill-opacity="0.9"/>
<circle cx="166.9" cy="535.0" r="1.2" fill="#8a8a8a" fill-opacity="0.9"/>
<circle cx="169.8" cy="535.0" r="1.2" fill="#8a8a8a" fill-opacity="0.9"/>
<circle cx="174.5" cy="535.0" r="1.2" fill="#8a8a8a" fill-opacity="0.9"/>
<circle cx="176.8" cy="535.0" r="1.2" fill="#8a8a8a" fill-opacity="0.9"/>
<circle cx="134.1" cy="549.0" r="1.2" fill="#8a8a8a" fill-opacity="0.9"/>
<circle cx="143.8" cy="549.0" r="1.2" fill="#8a8a8a" fill-opacity="0.9"/>
<circle cx="150.2" cy="549.0" r="1.2" fill="#8a8a8a" fill-opacity="0.9"/>
<circle cx="155.5" cy="549.0" r="1.2" fill="#8a8a8a" fill-opacity="0.9"/>
<circle cx="166.9" cy="549.0" r="1.2" fill="#8a8a8a" fill-opacity="0.9"/>
<circle cx="169.8" cy="549.0" r="1.2" fill="#8a8a8a" fill-opacity="0.9"/>
<circle cx="172.2" cy="549.0" r="1.2" fill="#8a8a8a" fill-opacity="0.9"/>
<circle cx="191.0" cy="549.0" r="1.2" fill="#8a8a8a" fill-opacity="0.9"/>
<circle cx="136.6" cy="562.6" r="1.2" fill="#8a8a8a" fill-opacity="0.9"/>
<circle cx="152.9" cy="562.6" r="1.2" fill="#8a8a8a" fill-opacity="0.9"/>
<circle cx="157.4" cy="562.6" r="1.2" fill="#8a8a8a" fill-opacity="0.9"/>
<circle cx="159.7" cy="562.6" r="1.2" fill="#8a8a8a" fill-opacity="0.9"/>
<circle cx="169.8" cy="562.6" r="1.2" fill="#8a8a8a" fill-opacity="0.9"/>
<circle cx="172.2" cy="562.6" r="1.2" fill="#8a8a8a" fill-opacity="0.9"/>
<circle cx="184.0" cy="562.6" r="1.2" fill="#8a8a8a" fill-opacity="0.9"/>
<circle cx="150.2" cy="576.3" r="1.2" fill="#8a8a8a" fill-opacity="0.9"/>
<circle cx="155.5" cy="576.3" r="1.2" fill="#8a8a8a" fill-opacity="0.9"/>
<circle cx="162.2" cy="576.3" r="1.2" fill="#8a8a8a" fill-opacity="0.9"/>
<circle cx="166.9" cy="576.3" r="1.2" fill="#8a8a8a" fill-opacity="0.9"/>
<circle cx="172.2" cy="576.3" r="1.2" fill="#8a8a8a" fill-opacity="0.9"/>
<circle cx="134.1" cy="590.2" r="1.2" fill="#8a8a8a" fill-opacity="0.9"/>
<circle cx="143.8" cy="590.2" r="1.2" fill="#8a8a8a" fill-opacity="0.9"/>
<circle cx="146.0" cy="590.2" r="1.2" fill="#8a8a8a" fill-opacity="0.9"/>
<circle cx="148.3" cy="590.2" r="1.2" fill="#8a8a8a" fill-opacity="0.9"/>
<circle cx="152.9" cy="590.2" r="1.2" fill="#8a8a8a" fill-opacity="0.9"/>
<circle cx="169.8" cy="590.2" r="1.2" fill="#8a8a8a" fill-opacity="0.9"/>
<circle cx="184.0" cy="590.2" r="1.2" fill="#8a8a8a" fill-opacity="0.9"/>
<circle cx="199.8" cy="590.2" r="1.2" fill="#8a8a8a" fill-opacity="0.9"/>
<circle cx="200.5" cy="590.2" r="1.2" fill="#8a8a8a" fill-opacity="0.9"/>
<circle cx="146.0" cy="604.3" r="1.2" fill="#8a8a8a" fill-opacity="0.9"/>
<circle cx="150.2" cy="604.3" r="1.2" fill="#8a8a8a" fill-opacity="0.9"/>
<circle cx="155.5" cy="604.3" r="1.2" fill="#8a8a8a" fill-opacity="0.9"/>
<circle cx="162.2" cy="604.3" r="1.2" fill="#8a8a8a" fill-opacity="0.9"/>
<circle cx="166.9" cy="604.3" r="1.2" fill="#8a8a8a" fill-opacity="0.9"/>
<circle cx="169.8" cy="604.3" r="1.2" fill="#8a8a8a" fill-opacity="0.9"/>
<circle cx="181.7" cy="604.3" r="1.2" fill="#8a8a8a" fill-opacity="0.9"/>
<circle cx="141.3" cy="618.7" r="1.2" fill="#8a8a8a" fill-opacity="0.9"/>
<circle cx="150.2" cy="618.7" r="1.2" fill="#8a8a8a" fill-opacity="0.9"/>
<circle cx="151.4" cy="618.7" r="1.2" fill="#8a8a8a" fill-opacity="0.9"/>
<circle cx="159.7" cy="618.7" r="1.2" fill="#8a8a8a" fill-opacity="0.9"/>
<circle cx="165.0" cy="618.7" r="1.2" fill="#8a8a8a" fill-opacity="0.9"/>
<circle cx="169.8" cy="618.7" r="1.2" fill="#8a8a8a" fill-opacity="0.9"/>
<circle cx="176.8" cy="618.7" r="1.2" fill="#8a8a8a" fill-opacity="0.9"/>
<circle cx="143.8" cy="632.5" r="1.2" fill="#8a8a8a" fill-opacity="0.9"/>
<circle cx="146.0" cy="632.5" r="1.2" fill="#8a8a8a" fill-opacity="0.9"/>
<circle cx="148.3" cy="632.5" r="1.2" fill="#8a8a8a" fill-opacity="0.9"/>
<circle cx="150.8" cy="632.5" r="1.2" fill="#8a8a8a" fill-opacity="0.9"/>
<circle cx="160.3" cy="632.5" r="1.2" fill="#8a8a8a" fill-opacity="0.9"/>
<circle cx="169.8" cy="632.5" r="1.2" fill="#8a8a8a" fill-opacity="0.9"/>
<circle cx="172.2" cy="632.5" r="1.2" fill="#8a8a8a" fill-opacity="0.9"/>
<circle cx="174.5" cy="632.5" r="1.2" fill="#8a8a8a" fill-opacity="0.9"/>
<circle cx="179.3" cy="632.5" r="1.2" fill="#8a8a8a" fill-opacity="0.9"/>
<circle cx="136.6" cy="645.9" r="1.2" fill="#8a8a8a" fill-opacity="0.9"/>
<circle cx="146.0" cy="645.9" r="1.2" fill="#8a8a8a" fill-opacity="0.9"/>
<circle cx="153.3" cy="645.9" r="1.2" fill="#8a8a8a" fill-opacity="0.9"/>
<circle cx="157.4" cy="645.9" r="1.2" fill="#8a8a8a" fill-opacity="0.9"/>
<circle cx="162.2" cy="645.9" r="1.2" fill="#8a8a8a" fill-opacity="0.9"/>
<circle cx="166.9" cy="645.9" r="1.2" fill="#8a8a8a" fill-opacity="0.9"/>
<circle cx="169.8" cy="645.9" r="1.2" fill="#8a8a8a" fill-opacity="0.9"/>
<circle cx="179.3" cy="645.9" r="1.2" fill="#8a8a8a" fill-opacity="0.9"/>
<circle cx="150.2" cy="659.6" r="1.2" fill="#8a8a8a" fill-opacity="0.9"/>
<circle cx="152.7" cy="659.6" r="1.2" fill="#8a8a8a" fill-opacity="0.9"/>
<circle cx="157.4" cy="659.6" r="1.2" fill="#8a8a8a" fill-opacity="0.9"/>
<circle cx="162.2" cy="659.6" r="1.2" fill="#8a8a8a" fill-opacity="0.9"/>
<circle cx="165.0" cy="659.6" r="1.2" fill="#8a8a8a" fill-opacity="0.9"/>
<circle cx="167.9" cy="659.6" r="1.2" fill="#8a8a8a" fill-opacity="0.9"/>
<circle cx="170.3" cy="659.6" r="1.2" fill="#8a8a8a" fill-opacity="0.9"/>
<circle cx="179.3" cy="659.6" r="1.2" fill="#8a8a8a" fill-opacity="0.9"/>
<circle cx="146.0" cy="674.0" r="1.2" fill="#8a8a8a" fill-opacity="0.9"/>
<circle cx="148.3" cy="674.0" r="1.2" fill="#8a8a8a" fill-opacity="0.9"/>
<circle cx="157.4" cy="674.0" r="1.2" fill="#8a8a8a" fill-opacity="0.9"/>
<circle cx="159.7" cy="674.0" r="1.2" fill="#8a8a8a" fill-opacity="0.9"/>
<circle cx="162.2" cy="674.0" r="1.2" fill="#8a8a8a" fill-opacity="0.9"/>
<circle cx="165.0" cy="674.0" r="1.2" fill="#8a8a8a" fill-opacity="0.9"/>
<circle cx="174.5" cy="674.0" r="1.2" fill="#8a8a8a" fill-opacity="0.9"/>
<circle cx="115.3" cy="689.0" r="1.2" fill="#8a8a8a" fill-opacity="0.9"/>
<circle cx="138.8" cy="689.0" r="1.2" fill="#8a8a8a" fill-opacity="0.9"/>
<circle cx="148.0" cy="689.0" r="1.2" fill="#8a8a8a" fill-opacity="0.9"/>
<circle cx="157.4" cy="689.0" r="1.2" fill="#8a8a8a" fill-opacity="0.9"/>
<circle cx="162.2" cy="689.0" r="1.2" fill="#8a8a8a" fill-opacity="0.9"/>
<circle cx="174.5" cy="689.0" r="1.2" fill="#8a8a8a" fill-opacity="0.9"/>
<circle cx="176.8" cy="689.0" r="1.2" fill="#8a8a8a" fill-opacity="0.9"/>
<circle cx="184.0" cy="689.0" r="1.2" fill="#8a8a8a" fill-opacity="0.9"/>
<line x1="111.6" y1="61.2" x2="290.2" y2="61.2" stroke="#3a3a3a" stroke-width="1.2"/>
<line x1="111.6" y1="61.2" x2="111.6" y2="689.0" stroke="#3a3a3a" stroke-width="1.2"/>
<line x1="165.4" y1="57.5" x2="165.4" y2="693.5" stroke="#3a3a3a" stroke-width="1.2"/>
<line x1="196.5" y1="57.8" x2="196.5" y2="61.2" stroke="#3a3a3a" stroke-width="1"/>
<line x1="227.5" y1="57.8" x2="227.5" y2="61.2" stroke="#3a3a3a" stroke-width="1"/>
<line x1="258.6" y1="57.8" x2="258.6" y2="61.2" stroke="#3a3a3a" stroke-width="1"/>
<line x1="289.7" y1="57.8" x2="289.7" y2="61.2" stroke="#3a3a3a" stroke-width="1"/>
<text x="165.4" y="54.9" text-anchor="middle" font-size="10" fill="#1e1e1e" class="l">0</text>
<text x="196.5" y="54.9" text-anchor="middle" font-size="10" fill="#1e1e1e" class="l">10</text>
<text x="227.5" y="54.9" text-anchor="middle" font-size="10" fill="#1e1e1e" class="l">20</text>
<text x="258.6" y="54.9" text-anchor="middle" font-size="10" fill="#1e1e1e" class="l">30</text>
<text x="289.7" y="54.9" text-anchor="middle" font-size="10" fill="#1e1e1e" class="l">40</text>
<line x1="105.3" y1="82.3" x2="111.6" y2="82.3" stroke="#3a3a3a" stroke-width="1.2"/>
<text x="102.8" y="86.1" text-anchor="end" font-size="12.3" fill="#1e1e1e" class="l">mineral oil</text>
<line x1="105.3" y1="99.1" x2="111.6" y2="99.1" stroke="#3a3a3a" stroke-width="1.2"/>
<text transform="matrix(0.93,0,0,1,7.20,0)" x="102.8" y="102.9" text-anchor="end" font-size="12.3" fill="#1e1e1e" class="l">isopentyl aceate</text>
<line x1="105.3" y1="113.3" x2="111.6" y2="113.3" stroke="#3a3a3a" stroke-width="1.2"/>
<text x="102.8" y="117.1" text-anchor="end" font-size="12.3" fill="#1e1e1e" class="l">2-butanone</text>
<line x1="105.3" y1="127.4" x2="111.6" y2="127.4" stroke="#3a3a3a" stroke-width="1.2"/>
<text x="102.8" y="131.2" text-anchor="end" font-size="12.3" fill="#1e1e1e" class="l">(Z)-3-hexen-1-ol</text>
<line x1="105.3" y1="141.5" x2="111.6" y2="141.5" stroke="#3a3a3a" stroke-width="1.2"/>
<text x="102.8" y="145.3" text-anchor="end" font-size="12.3" fill="#1e1e1e" class="l">1-butanol</text>
<line x1="105.3" y1="155.5" x2="111.6" y2="155.5" stroke="#3a3a3a" stroke-width="1.2"/>
<text x="102.8" y="159.3" text-anchor="end" font-size="12.3" fill="#1e1e1e" class="l">2-heptanone</text>
<line x1="105.3" y1="169.6" x2="111.6" y2="169.6" stroke="#3a3a3a" stroke-width="1.2"/>
<text x="102.8" y="173.4" text-anchor="end" font-size="12.3" fill="#1e1e1e" class="l">2-hexanone</text>
<line x1="105.3" y1="183.8" x2="111.6" y2="183.8" stroke="#3a3a3a" stroke-width="1.2"/>
<text x="102.8" y="187.6" text-anchor="end" font-size="12.3" fill="#1e1e1e" class="l">(E)-2-hexen-1-ol</text>
<line x1="105.3" y1="198.1" x2="111.6" y2="198.1" stroke="#3a3a3a" stroke-width="1.2"/>
<text x="102.8" y="201.9" text-anchor="end" font-size="12.3" fill="#1e1e1e" class="l">geraniol</text>
<line x1="105.3" y1="212.3" x2="111.6" y2="212.3" stroke="#3a3a3a" stroke-width="1.2"/>
<text x="102.8" y="216.1" text-anchor="end" font-size="12.3" fill="#1e1e1e" class="l">isovaleric acid</text>
<line x1="105.3" y1="226.4" x2="111.6" y2="226.4" stroke="#3a3a3a" stroke-width="1.2"/>
<text x="102.8" y="230.2" text-anchor="end" font-size="12.3" fill="#1e1e1e" class="l">linalool</text>
<line x1="105.3" y1="240.4" x2="111.6" y2="240.4" stroke="#3a3a3a" stroke-width="1.2"/>
<text x="102.8" y="244.2" text-anchor="end" font-size="12.3" fill="#1e1e1e" class="l">benzyl alcohol</text>
<line x1="105.3" y1="254.3" x2="111.6" y2="254.3" stroke="#3a3a3a" stroke-width="1.2"/>
<text x="102.8" y="258.1" text-anchor="end" font-size="12.3" fill="#1e1e1e" class="l">α-pinene</text>
<line x1="105.3" y1="268.4" x2="111.6" y2="268.4" stroke="#3a3a3a" stroke-width="1.2"/>
<text x="102.8" y="272.2" text-anchor="end" font-size="12.3" fill="#1e1e1e" class="l">octanoic acid</text>
<line x1="105.3" y1="282.3" x2="111.6" y2="282.3" stroke="#3a3a3a" stroke-width="1.2"/>
<text x="102.8" y="286.1" text-anchor="end" font-size="12.3" fill="#1e1e1e" class="l">α-caryophyllene</text>
<line x1="105.3" y1="296.1" x2="111.6" y2="296.1" stroke="#3a3a3a" stroke-width="1.2"/>
<text x="102.8" y="299.9" text-anchor="end" font-size="12.3" fill="#1e1e1e" class="l">heptanoic acid</text>
<line x1="105.3" y1="309.8" x2="111.6" y2="309.8" stroke="#3a3a3a" stroke-width="1.2"/>
<text x="102.8" y="313.6" text-anchor="end" font-size="12.3" fill="#1e1e1e" class="l">2-oxooctanoic acid</text>
<line x1="105.3" y1="323.7" x2="111.6" y2="323.7" stroke="#3a3a3a" stroke-width="1.2"/>
<text x="102.8" y="327.5" text-anchor="end" font-size="12.3" fill="#1e1e1e" class="l">(±)-β-citronellol</text>
<line x1="105.3" y1="337.7" x2="111.6" y2="337.7" stroke="#3a3a3a" stroke-width="1.2"/>
<text x="102.8" y="341.5" text-anchor="end" font-size="12.3" fill="#1e1e1e" class="l">β-pinene</text>
<line x1="105.3" y1="351.7" x2="111.6" y2="351.7" stroke="#3a3a3a" stroke-width="1.2"/>
<text x="102.8" y="355.5" text-anchor="end" font-size="12.3" fill="#1e1e1e" class="l">hexanoic acid</text>
<line x1="105.3" y1="365.9" x2="111.6" y2="365.9" stroke="#3a3a3a" stroke-width="1.2"/>
<text x="102.8" y="369.7" text-anchor="end" font-size="12.3" fill="#1e1e1e" class="l">trans-2-nonenal</text>
<line x1="105.3" y1="380.0" x2="111.6" y2="380.0" stroke="#3a3a3a" stroke-width="1.2"/>
<text x="102.8" y="383.8" text-anchor="end" font-size="12.3" fill="#1e1e1e" class="l">eugenol</text>
<line x1="105.3" y1="394.3" x2="111.6" y2="394.3" stroke="#3a3a3a" stroke-width="1.2"/>
<text x="102.8" y="398.1" text-anchor="end" font-size="12.3" fill="#1e1e1e" class="l">citral</text>
<line x1="105.3" y1="408.5" x2="111.6" y2="408.5" stroke="#3a3a3a" stroke-width="1.2"/>
<text x="102.8" y="412.3" text-anchor="end" font-size="12.3" fill="#1e1e1e" class="l">(E)-2-octen-1-ol</text>
<line x1="105.3" y1="422.4" x2="111.6" y2="422.4" stroke="#3a3a3a" stroke-width="1.2"/>
<text x="102.8" y="426.2" text-anchor="end" font-size="12.3" fill="#1e1e1e" class="l">estragol</text>
<line x1="105.3" y1="436.4" x2="111.6" y2="436.4" stroke="#3a3a3a" stroke-width="1.2"/>
<text x="102.8" y="440.2" text-anchor="end" font-size="12.3" fill="#1e1e1e" class="l">3-carene</text>
<line x1="105.3" y1="450.4" x2="111.6" y2="450.4" stroke="#3a3a3a" stroke-width="1.2"/>
<text x="102.8" y="454.2" text-anchor="end" font-size="12.3" fill="#1e1e1e" class="l">isoamyl alcohol</text>
<line x1="105.3" y1="464.5" x2="111.6" y2="464.5" stroke="#3a3a3a" stroke-width="1.2"/>
<text x="102.8" y="468.3" text-anchor="end" font-size="12.3" fill="#1e1e1e" class="l">octanal</text>
<line x1="105.3" y1="478.6" x2="111.6" y2="478.6" stroke="#3a3a3a" stroke-width="1.2"/>
<text x="102.8" y="482.4" text-anchor="end" font-size="12.3" fill="#1e1e1e" class="l">nonanoic acid</text>
<line x1="105.3" y1="492.7" x2="111.6" y2="492.7" stroke="#3a3a3a" stroke-width="1.2"/>
<text x="102.8" y="496.5" text-anchor="end" font-size="12.3" fill="#1e1e1e" class="l">geranic acid</text>
<line x1="105.3" y1="506.8" x2="111.6" y2="506.8" stroke="#3a3a3a" stroke-width="1.2"/>
<text x="102.8" y="510.6" text-anchor="end" font-size="12.3" fill="#1e1e1e" class="l">β-caryophyllene</text>
<line x1="105.3" y1="520.8" x2="111.6" y2="520.8" stroke="#3a3a3a" stroke-width="1.2"/>
<text x="102.8" y="524.6" text-anchor="end" font-size="12.3" fill="#1e1e1e" class="l">pentanoic acid</text>
<line x1="105.3" y1="535.0" x2="111.6" y2="535.0" stroke="#3a3a3a" stroke-width="1.2"/>
<text x="102.8" y="538.8" text-anchor="end" font-size="12.3" fill="#1e1e1e" class="l">butyric acid</text>
<line x1="105.3" y1="549.0" x2="111.6" y2="549.0" stroke="#3a3a3a" stroke-width="1.2"/>
<text x="102.8" y="552.8" text-anchor="end" font-size="12.3" fill="#1e1e1e" class="l">limonene</text>
<line x1="105.3" y1="562.6" x2="111.6" y2="562.6" stroke="#3a3a3a" stroke-width="1.2"/>
<text x="102.8" y="566.4" text-anchor="end" font-size="12.3" fill="#1e1e1e" class="l">acetophenone</text>
<line x1="105.3" y1="576.3" x2="111.6" y2="576.3" stroke="#3a3a3a" stroke-width="1.2"/>
<text x="102.8" y="580.1" text-anchor="end" font-size="12.3" fill="#1e1e1e" class="l">lauric acid</text>
<line x1="105.3" y1="590.2" x2="111.6" y2="590.2" stroke="#3a3a3a" stroke-width="1.2"/>
<text x="102.8" y="594.0" text-anchor="end" font-size="12.3" fill="#1e1e1e" class="l">(E)-2-hexenal</text>
<line x1="105.3" y1="604.3" x2="111.6" y2="604.3" stroke="#3a3a3a" stroke-width="1.2"/>
<text x="102.8" y="608.1" text-anchor="end" font-size="12.3" fill="#1e1e1e" class="l">eucalyptol</text>
<line x1="105.3" y1="618.7" x2="111.6" y2="618.7" stroke="#3a3a3a" stroke-width="1.2"/>
<text x="102.8" y="622.5" text-anchor="end" font-size="12.3" fill="#1e1e1e" class="l">decanal</text>
<line x1="105.3" y1="632.5" x2="111.6" y2="632.5" stroke="#3a3a3a" stroke-width="1.2"/>
<text x="102.8" y="636.3" text-anchor="end" font-size="12.3" fill="#1e1e1e" class="l">1-octen-3-ol</text>
<line x1="105.3" y1="645.9" x2="111.6" y2="645.9" stroke="#3a3a3a" stroke-width="1.2"/>
<text x="102.8" y="649.7" text-anchor="end" font-size="12.3" fill="#1e1e1e" class="l">β-myrcene</text>
<line x1="105.3" y1="659.6" x2="111.6" y2="659.6" stroke="#3a3a3a" stroke-width="1.2"/>
<text x="102.8" y="663.4" text-anchor="end" font-size="12.3" fill="#1e1e1e" class="l">1-octanol</text>
<line x1="105.3" y1="674.0" x2="111.6" y2="674.0" stroke="#3a3a3a" stroke-width="1.2"/>
<text x="102.8" y="677.8" text-anchor="end" font-size="12.3" fill="#1e1e1e" class="l">benzaldehyde</text>
<line x1="105.3" y1="689.0" x2="111.6" y2="689.0" stroke="#3a3a3a" stroke-width="1.2"/>
<text x="102.8" y="692.8" text-anchor="end" font-size="12.3" fill="#1e1e1e" class="l">sulcatone</text>
<text x="288.8" y="108.5" text-anchor="middle" font-size="18" font-weight="bold" fill="#111">*</text>
<text x="304.5" y="123.1" text-anchor="middle" font-size="18" font-weight="bold" fill="#111">*</text>
<line x1="485.6" y1="82.0" x2="478.8" y2="82.0" stroke="#777" stroke-width="0.95"/>
<line x1="478.8" y1="79.0" x2="478.8" y2="85.0" stroke="#777" stroke-width="0.95"/>
<rect x="485.6" y="77.5" width="2.8" height="9.1" fill="#ffffff" stroke="#5a5a5a" stroke-width="1"/>
<line x1="609.8" y1="95.8" x2="622.0" y2="95.8" stroke="#3a3a3a" stroke-width="0.95"/>
<line x1="622.0" y1="92.8" x2="622.0" y2="98.8" stroke="#3a3a3a" stroke-width="0.95"/>
<rect x="488.4" y="91.2" width="121.4" height="9.1" fill="#873510" stroke="#2a2a2a" stroke-width="1"/>
<line x1="621.6" y1="109.4" x2="635.4" y2="109.4" stroke="#3a3a3a" stroke-width="0.95"/>
<line x1="635.4" y1="106.4" x2="635.4" y2="112.4" stroke="#3a3a3a" stroke-width="0.95"/>
<rect x="488.4" y="104.9" width="133.2" height="9.1" fill="#aaa892" stroke="#2a2a2a" stroke-width="1"/>
<line x1="546.6" y1="123.3" x2="553.5" y2="123.3" stroke="#3a3a3a" stroke-width="0.95"/>
<line x1="553.5" y1="120.3" x2="553.5" y2="126.3" stroke="#3a3a3a" stroke-width="0.95"/>
<rect x="488.4" y="118.7" width="58.2" height="9.1" fill="#6a9e98" stroke="#2a2a2a" stroke-width="1"/>
<line x1="512.9" y1="137.4" x2="521.1" y2="137.4" stroke="#3a3a3a" stroke-width="0.95"/>
<line x1="521.1" y1="134.4" x2="521.1" y2="140.4" stroke="#3a3a3a" stroke-width="0.95"/>
<rect x="488.4" y="132.9" width="24.5" height="9.1" fill="#6a9e98" stroke="#2a2a2a" stroke-width="1"/>
<line x1="520.3" y1="151.5" x2="526.6" y2="151.5" stroke="#3a3a3a" stroke-width="0.95"/>
<line x1="526.6" y1="148.5" x2="526.6" y2="154.5" stroke="#3a3a3a" stroke-width="0.95"/>
<rect x="488.4" y="146.9" width="31.9" height="9.1" fill="#aaa892" stroke="#2a2a2a" stroke-width="1"/>
<line x1="543.7" y1="165.5" x2="554.2" y2="165.5" stroke="#3a3a3a" stroke-width="0.95"/>
<line x1="554.2" y1="162.5" x2="554.2" y2="168.5" stroke="#3a3a3a" stroke-width="0.95"/>
<rect x="488.4" y="161.0" width="55.3" height="9.1" fill="#aaa892" stroke="#2a2a2a" stroke-width="1"/>
<line x1="497.7" y1="179.7" x2="499.9" y2="179.7" stroke="#3a3a3a" stroke-width="0.95"/>
<line x1="499.9" y1="176.7" x2="499.9" y2="182.7" stroke="#3a3a3a" stroke-width="0.95"/>
<rect x="488.4" y="175.1" width="9.3" height="9.1" fill="#6a9e98" stroke="#2a2a2a" stroke-width="1"/>
<line x1="511.5" y1="193.7" x2="519.7" y2="193.7" stroke="#3a3a3a" stroke-width="0.95"/>
<line x1="519.7" y1="190.7" x2="519.7" y2="196.7" stroke="#3a3a3a" stroke-width="0.95"/>
<rect x="488.4" y="189.2" width="23.1" height="9.1" fill="#e6e07c" stroke="#2a2a2a" stroke-width="1"/>
<line x1="490.8" y1="207.8" x2="493.4" y2="207.8" stroke="#3a3a3a" stroke-width="0.95"/>
<line x1="493.4" y1="204.8" x2="493.4" y2="210.8" stroke="#3a3a3a" stroke-width="0.95"/>
<rect x="488.4" y="203.2" width="2.4" height="9.1" fill="#5c1a40" stroke="#2a2a2a" stroke-width="1"/>
<line x1="492.0" y1="221.8" x2="497.7" y2="221.8" stroke="#3a3a3a" stroke-width="0.95"/>
<line x1="497.7" y1="218.8" x2="497.7" y2="224.8" stroke="#3a3a3a" stroke-width="0.95"/>
<rect x="488.4" y="217.3" width="3.6" height="9.1" fill="#e6e07c" stroke="#2a2a2a" stroke-width="1"/>
<line x1="497.7" y1="235.9" x2="502.6" y2="235.9" stroke="#3a3a3a" stroke-width="0.95"/>
<line x1="502.6" y1="232.9" x2="502.6" y2="238.9" stroke="#3a3a3a" stroke-width="0.95"/>
<rect x="488.4" y="231.4" width="9.3" height="9.1" fill="#6a9e98" stroke="#2a2a2a" stroke-width="1"/>
<line x1="497.0" y1="250.0" x2="501.9" y2="250.0" stroke="#3a3a3a" stroke-width="0.95"/>
<line x1="501.9" y1="247.0" x2="501.9" y2="253.0" stroke="#3a3a3a" stroke-width="0.95"/>
<rect x="488.4" y="245.4" width="8.6" height="9.1" fill="#e6e07c" stroke="#2a2a2a" stroke-width="1"/>
<line x1="486.1" y1="263.9" x2="482.9" y2="263.9" stroke="#3a3a3a" stroke-width="0.95"/>
<line x1="482.9" y1="260.9" x2="482.9" y2="266.9" stroke="#3a3a3a" stroke-width="0.95"/>
<rect x="486.1" y="259.3" width="2.3" height="9.1" fill="#5c1a40" stroke="#2a2a2a" stroke-width="1"/>
<line x1="505.7" y1="277.7" x2="509.7" y2="277.7" stroke="#3a3a3a" stroke-width="0.95"/>
<line x1="509.7" y1="274.7" x2="509.7" y2="280.7" stroke="#3a3a3a" stroke-width="0.95"/>
<rect x="488.4" y="273.2" width="17.3" height="9.1" fill="#e6e07c" stroke="#2a2a2a" stroke-width="1"/>
<line x1="491.7" y1="291.5" x2="497.0" y2="291.5" stroke="#3a3a3a" stroke-width="0.95"/>
<line x1="497.0" y1="288.5" x2="497.0" y2="294.5" stroke="#3a3a3a" stroke-width="0.95"/>
<rect x="488.4" y="286.9" width="3.3" height="9.1" fill="#5c1a40" stroke="#2a2a2a" stroke-width="1"/>
<line x1="486.4" y1="305.3" x2="484.7" y2="305.3" stroke="#3a3a3a" stroke-width="0.95"/>
<line x1="484.7" y1="302.3" x2="484.7" y2="308.3" stroke="#3a3a3a" stroke-width="0.95"/>
<rect x="486.4" y="300.8" width="2.0" height="9.1" fill="#5c1a40" stroke="#2a2a2a" stroke-width="1"/>
<line x1="487.1" y1="319.3" x2="484.2" y2="319.3" stroke="#3a3a3a" stroke-width="0.95"/>
<line x1="484.2" y1="316.3" x2="484.2" y2="322.3" stroke="#3a3a3a" stroke-width="0.95"/>
<rect x="487.1" y="314.8" width="1.3" height="9.1" fill="#c9c47a" stroke="#2a2a2a" stroke-width="1"/>
<line x1="493.1" y1="333.4" x2="497.0" y2="333.4" stroke="#3a3a3a" stroke-width="0.95"/>
<line x1="497.0" y1="330.4" x2="497.0" y2="336.4" stroke="#3a3a3a" stroke-width="0.95"/>
<rect x="488.4" y="328.9" width="4.7" height="9.1" fill="#e6e07c" stroke="#2a2a2a" stroke-width="1"/>
<line x1="490.8" y1="347.6" x2="493.4" y2="347.6" stroke="#3a3a3a" stroke-width="0.95"/>
<line x1="493.4" y1="344.6" x2="493.4" y2="350.6" stroke="#3a3a3a" stroke-width="0.95"/>
<rect x="488.4" y="343.0" width="2.4" height="9.1" fill="#5c1a40" stroke="#2a2a2a" stroke-width="1"/>
<line x1="511.7" y1="361.6" x2="521.5" y2="361.6" stroke="#3a3a3a" stroke-width="0.95"/>
<line x1="521.5" y1="358.6" x2="521.5" y2="364.6" stroke="#3a3a3a" stroke-width="0.95"/>
<rect x="488.4" y="357.1" width="23.3" height="9.1" fill="#abc796" stroke="#2a2a2a" stroke-width="1"/>
<line x1="484.2" y1="375.7" x2="481.2" y2="375.7" stroke="#3a3a3a" stroke-width="0.95"/>
<line x1="481.2" y1="372.7" x2="481.2" y2="378.7" stroke="#3a3a3a" stroke-width="0.95"/>
<rect x="484.2" y="371.2" width="4.2" height="9.1" fill="#6a9e98" stroke="#2a2a2a" stroke-width="1"/>
<line x1="496.4" y1="389.8" x2="500.8" y2="389.8" stroke="#3a3a3a" stroke-width="0.95"/>
<line x1="500.8" y1="386.8" x2="500.8" y2="392.8" stroke="#3a3a3a" stroke-width="0.95"/>
<rect x="488.4" y="385.2" width="8.0" height="9.1" fill="#e6e07c" stroke="#2a2a2a" stroke-width="1"/>
<line x1="489.2" y1="404.0" x2="493.1" y2="404.0" stroke="#3a3a3a" stroke-width="0.95"/>
<line x1="493.1" y1="401.0" x2="493.1" y2="407.0" stroke="#3a3a3a" stroke-width="0.95"/>
<rect x="488.4" y="399.5" width="0.8" height="9.1" fill="#6a9e98" stroke="#2a2a2a" stroke-width="1"/>
<line x1="501.9" y1="418.2" x2="507.5" y2="418.2" stroke="#3a3a3a" stroke-width="0.95"/>
<line x1="507.5" y1="415.2" x2="507.5" y2="421.2" stroke="#3a3a3a" stroke-width="0.95"/>
<rect x="488.4" y="413.6" width="13.5" height="9.1" fill="#6a9e98" stroke="#2a2a2a" stroke-width="1"/>
<line x1="493.4" y1="432.2" x2="500.8" y2="432.2" stroke="#3a3a3a" stroke-width="0.95"/>
<line x1="500.8" y1="429.2" x2="500.8" y2="435.2" stroke="#3a3a3a" stroke-width="0.95"/>
<rect x="488.4" y="427.7" width="5.0" height="9.1" fill="#e6e07c" stroke="#2a2a2a" stroke-width="1"/>
<line x1="492.7" y1="446.3" x2="496.4" y2="446.3" stroke="#3a3a3a" stroke-width="0.95"/>
<line x1="496.4" y1="443.3" x2="496.4" y2="449.3" stroke="#3a3a3a" stroke-width="0.95"/>
<rect x="488.4" y="441.7" width="4.3" height="9.1" fill="#6a9e98" stroke="#2a2a2a" stroke-width="1"/>
<line x1="478.2" y1="460.1" x2="475.4" y2="460.1" stroke="#3a3a3a" stroke-width="0.95"/>
<line x1="475.4" y1="457.1" x2="475.4" y2="463.1" stroke="#3a3a3a" stroke-width="0.95"/>
<rect x="478.2" y="455.6" width="10.2" height="9.1" fill="#abc796" stroke="#2a2a2a" stroke-width="1"/>
<line x1="494.7" y1="474.1" x2="496.4" y2="474.1" stroke="#3a3a3a" stroke-width="0.95"/>
<line x1="496.4" y1="471.1" x2="496.4" y2="477.1" stroke="#3a3a3a" stroke-width="0.95"/>
<rect x="488.4" y="469.6" width="6.3" height="9.1" fill="#5c1a40" stroke="#2a2a2a" stroke-width="1"/>
<line x1="509.2" y1="488.4" x2="521.5" y2="488.4" stroke="#3a3a3a" stroke-width="0.95"/>
<line x1="521.5" y1="485.4" x2="521.5" y2="491.4" stroke="#3a3a3a" stroke-width="0.95"/>
<rect x="488.4" y="483.9" width="20.8" height="9.1" fill="#5c1a40" stroke="#2a2a2a" stroke-width="1"/>
<line x1="491.5" y1="502.7" x2="494.8" y2="502.7" stroke="#3a3a3a" stroke-width="0.95"/>
<line x1="494.8" y1="499.7" x2="494.8" y2="505.7" stroke="#3a3a3a" stroke-width="0.95"/>
<rect x="488.4" y="498.1" width="3.1" height="9.1" fill="#e6e07c" stroke="#2a2a2a" stroke-width="1"/>
<line x1="485.0" y1="516.7" x2="481.5" y2="516.7" stroke="#3a3a3a" stroke-width="0.95"/>
<line x1="481.5" y1="513.7" x2="481.5" y2="519.7" stroke="#3a3a3a" stroke-width="0.95"/>
<rect x="485.0" y="512.2" width="3.4" height="9.1" fill="#5c1a40" stroke="#2a2a2a" stroke-width="1"/>
<line x1="501.5" y1="530.8" x2="506.1" y2="530.8" stroke="#3a3a3a" stroke-width="0.95"/>
<line x1="506.1" y1="527.8" x2="506.1" y2="533.8" stroke="#3a3a3a" stroke-width="0.95"/>
<rect x="488.4" y="526.2" width="13.1" height="9.1" fill="#5c1a40" stroke="#2a2a2a" stroke-width="1"/>
<line x1="476.3" y1="544.9" x2="471.0" y2="544.9" stroke="#3a3a3a" stroke-width="0.95"/>
<line x1="471.0" y1="541.9" x2="471.0" y2="547.9" stroke="#3a3a3a" stroke-width="0.95"/>
<rect x="476.3" y="540.3" width="12.1" height="9.1" fill="#e6e07c" stroke="#2a2a2a" stroke-width="1"/>
<line x1="481.2" y1="558.5" x2="475.4" y2="558.5" stroke="#3a3a3a" stroke-width="0.95"/>
<line x1="475.4" y1="555.5" x2="475.4" y2="561.5" stroke="#3a3a3a" stroke-width="0.95"/>
<rect x="481.2" y="554.0" width="7.2" height="9.1" fill="#aaa892" stroke="#2a2a2a" stroke-width="1"/>
<line x1="491.5" y1="572.0" x2="495.2" y2="572.0" stroke="#3a3a3a" stroke-width="0.95"/>
<line x1="495.2" y1="569.0" x2="495.2" y2="575.0" stroke="#3a3a3a" stroke-width="0.95"/>
<rect x="488.4" y="567.5" width="3.1" height="9.1" fill="#5c1a40" stroke="#2a2a2a" stroke-width="1"/>
<line x1="494.7" y1="585.8" x2="497.7" y2="585.8" stroke="#3a3a3a" stroke-width="0.95"/>
<line x1="497.7" y1="582.8" x2="497.7" y2="588.8" stroke="#3a3a3a" stroke-width="0.95"/>
<rect x="488.4" y="581.3" width="6.3" height="9.1" fill="#abc796" stroke="#2a2a2a" stroke-width="1"/>
<line x1="490.0" y1="599.8" x2="494.8" y2="599.8" stroke="#3a3a3a" stroke-width="0.95"/>
<line x1="494.8" y1="596.8" x2="494.8" y2="602.8" stroke="#3a3a3a" stroke-width="0.95"/>
<rect x="488.4" y="595.2" width="1.6" height="9.1" fill="#c9c47a" stroke="#2a2a2a" stroke-width="1"/>
<line x1="496.6" y1="613.9" x2="500.8" y2="613.9" stroke="#3a3a3a" stroke-width="0.95"/>
<line x1="500.8" y1="610.9" x2="500.8" y2="616.9" stroke="#3a3a3a" stroke-width="0.95"/>
<rect x="488.4" y="609.3" width="8.2" height="9.1" fill="#abc796" stroke="#2a2a2a" stroke-width="1"/>
<line x1="484.3" y1="627.9" x2="481.5" y2="627.9" stroke="#3a3a3a" stroke-width="0.95"/>
<line x1="481.5" y1="624.9" x2="481.5" y2="630.9" stroke="#3a3a3a" stroke-width="0.95"/>
<rect x="484.3" y="623.3" width="4.1" height="9.1" fill="#6a9e98" stroke="#2a2a2a" stroke-width="1"/>
<line x1="503.1" y1="641.5" x2="514.8" y2="641.5" stroke="#3a3a3a" stroke-width="0.95"/>
<line x1="514.8" y1="638.5" x2="514.8" y2="644.5" stroke="#3a3a3a" stroke-width="0.95"/>
<rect x="488.4" y="636.9" width="14.7" height="9.1" fill="#e6e07c" stroke="#2a2a2a" stroke-width="1"/>
<line x1="484.2" y1="655.3" x2="481.5" y2="655.3" stroke="#3a3a3a" stroke-width="0.95"/>
<line x1="481.5" y1="652.3" x2="481.5" y2="658.3" stroke="#3a3a3a" stroke-width="0.95"/>
<rect x="484.2" y="650.8" width="4.2" height="9.1" fill="#6a9e98" stroke="#2a2a2a" stroke-width="1"/>
<line x1="477.2" y1="669.4" x2="470.5" y2="669.4" stroke="#3a3a3a" stroke-width="0.95"/>
<line x1="470.5" y1="666.4" x2="470.5" y2="672.4" stroke="#3a3a3a" stroke-width="0.95"/>
<rect x="477.2" y="664.9" width="11.2" height="9.1" fill="#abc796" stroke="#2a2a2a" stroke-width="1"/>
<line x1="497.7" y1="683.7" x2="501.7" y2="683.7" stroke="#3a3a3a" stroke-width="0.95"/>
<line x1="501.7" y1="680.7" x2="501.7" y2="686.7" stroke="#3a3a3a" stroke-width="0.95"/>
<rect x="488.4" y="679.2" width="9.3" height="9.1" fill="#aaa892" stroke="#2a2a2a" stroke-width="1"/>
<circle cx="480.4" cy="82.0" r="1.2" fill="#8a8a8a" fill-opacity="0.9"/>
<circle cx="482.3" cy="82.0" r="1.2" fill="#8a8a8a" fill-opacity="0.9"/>
<circle cx="483.8" cy="82.0" r="1.2" fill="#8a8a8a" fill-opacity="0.9"/>
<circle cx="490.8" cy="82.0" r="1.2" fill="#8a8a8a" fill-opacity="0.9"/>
<circle cx="493.6" cy="82.0" r="1.2" fill="#8a8a8a" fill-opacity="0.9"/>
<circle cx="495.5" cy="82.0" r="1.2" fill="#8a8a8a" fill-opacity="0.9"/>
<circle cx="499.0" cy="82.0" r="1.2" fill="#8a8a8a" fill-opacity="0.9"/>
<circle cx="545.8" cy="95.8" r="1.2" fill="#8a8a8a" fill-opacity="0.9"/>
<circle cx="552.5" cy="95.8" r="1.2" fill="#8a8a8a" fill-opacity="0.9"/>
<circle cx="600.2" cy="95.8" r="1.2" fill="#8a8a8a" fill-opacity="0.9"/>
<circle cx="605.3" cy="95.8" r="1.2" fill="#8a8a8a" fill-opacity="0.9"/>
<circle cx="630.9" cy="95.8" r="1.2" fill="#8a8a8a" fill-opacity="0.9"/>
<circle cx="632.8" cy="95.8" r="1.2" fill="#8a8a8a" fill-opacity="0.9"/>
<circle cx="682.1" cy="95.8" r="1.2" fill="#8a8a8a" fill-opacity="0.9"/>
<circle cx="540.1" cy="109.4" r="1.2" fill="#8a8a8a" fill-opacity="0.9"/>
<circle cx="555.7" cy="109.4" r="1.2" fill="#8a8a8a" fill-opacity="0.9"/>
<circle cx="556.0" cy="109.4" r="1.2" fill="#8a8a8a" fill-opacity="0.9"/>
<circle cx="586.9" cy="109.4" r="1.2" fill="#8a8a8a" fill-opacity="0.9"/>
<circle cx="615.7" cy="109.4" r="1.2" fill="#8a8a8a" fill-opacity="0.9"/>
<circle cx="617.6" cy="109.4" r="1.2" fill="#8a8a8a" fill-opacity="0.9"/>
<circle cx="671.1" cy="109.4" r="1.2" fill="#8a8a8a" fill-opacity="0.9"/>
<circle cx="679.3" cy="109.4" r="1.2" fill="#8a8a8a" fill-opacity="0.9"/>
<circle cx="505.6" cy="123.3" r="1.2" fill="#8a8a8a" fill-opacity="0.9"/>
<circle cx="524.6" cy="123.3" r="1.2" fill="#8a8a8a" fill-opacity="0.9"/>
<circle cx="532.9" cy="123.3" r="1.2" fill="#8a8a8a" fill-opacity="0.9"/>
<circle cx="540.1" cy="123.3" r="1.2" fill="#8a8a8a" fill-opacity="0.9"/>
<circle cx="546.8" cy="123.3" r="1.2" fill="#8a8a8a" fill-opacity="0.9"/>
<circle cx="559.1" cy="123.3" r="1.2" fill="#8a8a8a" fill-opacity="0.9"/>
<circle cx="558.8" cy="123.3" r="1.2" fill="#8a8a8a" fill-opacity="0.9"/>
<circle cx="488.9" cy="137.4" r="1.2" fill="#8a8a8a" fill-opacity="0.9"/>
<circle cx="493.6" cy="137.4" r="1.2" fill="#8a8a8a" fill-opacity="0.9"/>
<circle cx="495.5" cy="137.4" r="1.2" fill="#8a8a8a" fill-opacity="0.9"/>
<circle cx="506.0" cy="137.4" r="1.2" fill="#8a8a8a" fill-opacity="0.9"/>
<circle cx="525.9" cy="137.4" r="1.2" fill="#8a8a8a" fill-opacity="0.9"/>
<circle cx="534.8" cy="137.4" r="1.2" fill="#8a8a8a" fill-opacity="0.9"/>
<circle cx="570.9" cy="137.4" r="1.2" fill="#8a8a8a" fill-opacity="0.9"/>
<circle cx="491.7" cy="151.5" r="1.2" fill="#8a8a8a" fill-opacity="0.9"/>
<circle cx="497.4" cy="151.5" r="1.2" fill="#8a8a8a" fill-opacity="0.9"/>
<circle cx="502.2" cy="151.5" r="1.2" fill="#8a8a8a" fill-opacity="0.9"/>
<circle cx="505.0" cy="151.5" r="1.2" fill="#8a8a8a" fill-opacity="0.9"/>
<circle cx="509.2" cy="151.5" r="1.2" fill="#8a8a8a" fill-opacity="0.9"/>
<circle cx="558.5" cy="151.5" r="1.2" fill="#8a8a8a" fill-opacity="0.9"/>
<circle cx="569.5" cy="151.5" r="1.2" fill="#8a8a8a" fill-opacity="0.9"/>
<circle cx="577.5" cy="151.5" r="1.2" fill="#8a8a8a" fill-opacity="0.9"/>
<circle cx="497.0" cy="165.5" r="1.2" fill="#8a8a8a" fill-opacity="0.9"/>
<circle cx="510.7" cy="165.5" r="1.2" fill="#8a8a8a" fill-opacity="0.9"/>
<circle cx="517.4" cy="165.5" r="1.2" fill="#8a8a8a" fill-opacity="0.9"/>
<circle cx="525.9" cy="165.5" r="1.2" fill="#8a8a8a" fill-opacity="0.9"/>
<circle cx="531.6" cy="165.5" r="1.2" fill="#8a8a8a" fill-opacity="0.9"/>
<circle cx="555.3" cy="165.5" r="1.2" fill="#8a8a8a" fill-opacity="0.9"/>
<circle cx="621.0" cy="165.5" r="1.2" fill="#8a8a8a" fill-opacity="0.9"/>
<circle cx="491.7" cy="179.7" r="1.2" fill="#8a8a8a" fill-opacity="0.9"/>
<circle cx="501.6" cy="179.7" r="1.2" fill="#8a8a8a" fill-opacity="0.9"/>
<circle cx="504.0" cy="179.7" r="1.2" fill="#8a8a8a" fill-opacity="0.9"/>
<circle cx="489.3" cy="193.7" r="1.2" fill="#8a8a8a" fill-opacity="0.9"/>
<circle cx="496.0" cy="193.7" r="1.2" fill="#8a8a8a" fill-opacity="0.9"/>
<circle cx="526.3" cy="193.7" r="1.2" fill="#8a8a8a" fill-opacity="0.9"/>
<circle cx="534.9" cy="193.7" r="1.2" fill="#8a8a8a" fill-opacity="0.9"/>
<circle cx="546.8" cy="193.7" r="1.2" fill="#8a8a8a" fill-opacity="0.9"/>
<circle cx="476.0" cy="207.8" r="1.2" fill="#8a8a8a" fill-opacity="0.9"/>
<circle cx="478.0" cy="207.8" r="1.2" fill="#8a8a8a" fill-opacity="0.9"/>
<circle cx="480.8" cy="207.8" r="1.2" fill="#8a8a8a" fill-opacity="0.9"/>
<circle cx="484.6" cy="207.8" r="1.2" fill="#8a8a8a" fill-opacity="0.9"/>
<circle cx="496.9" cy="207.8" r="1.2" fill="#8a8a8a" fill-opacity="0.9"/>
<circle cx="499.2" cy="207.8" r="1.2" fill="#8a8a8a" fill-opacity="0.9"/>
<circle cx="500.7" cy="207.8" r="1.2" fill="#8a8a8a" fill-opacity="0.9"/>
<circle cx="506.8" cy="207.8" r="1.2" fill="#8a8a8a" fill-opacity="0.9"/>
<circle cx="463.7" cy="221.8" r="1.2" fill="#8a8a8a" fill-opacity="0.9"/>
<circle cx="468.8" cy="221.8" r="1.2" fill="#8a8a8a" fill-opacity="0.9"/>
<circle cx="474.2" cy="221.8" r="1.2" fill="#8a8a8a" fill-opacity="0.9"/>
<circle cx="484.6" cy="221.8" r="1.2" fill="#8a8a8a" fill-opacity="0.9"/>
<circle cx="503.6" cy="221.8" r="1.2" fill="#8a8a8a" fill-opacity="0.9"/>
<circle cx="505.5" cy="221.8" r="1.2" fill="#8a8a8a" fill-opacity="0.9"/>
<circle cx="510.6" cy="221.8" r="1.2" fill="#8a8a8a" fill-opacity="0.9"/>
<circle cx="524.4" cy="221.8" r="1.2" fill="#8a8a8a" fill-opacity="0.9"/>
<circle cx="477.6" cy="235.9" r="1.2" fill="#8a8a8a" fill-opacity="0.9"/>
<circle cx="481.4" cy="235.9" r="1.2" fill="#8a8a8a" fill-opacity="0.9"/>
<circle cx="491.0" cy="235.9" r="1.2" fill="#8a8a8a" fill-opacity="0.9"/>
<circle cx="494.0" cy="235.9" r="1.2" fill="#8a8a8a" fill-opacity="0.9"/>
<circle cx="522.5" cy="235.9" r="1.2" fill="#8a8a8a" fill-opacity="0.9"/>
<circle cx="529.6" cy="235.9" r="1.2" fill="#8a8a8a" fill-opacity="0.9"/>
<circle cx="482.7" cy="250.0" r="1.2" fill="#8a8a8a" fill-opacity="0.9"/>
<circle cx="485.5" cy="250.0" r="1.2" fill="#8a8a8a" fill-opacity="0.9"/>
<circle cx="492.2" cy="250.0" r="1.2" fill="#8a8a8a" fill-opacity="0.9"/>
<circle cx="512.1" cy="250.0" r="1.2" fill="#8a8a8a" fill-opacity="0.9"/>
<circle cx="524.4" cy="250.0" r="1.2" fill="#8a8a8a" fill-opacity="0.9"/>
<circle cx="472.3" cy="263.9" r="1.2" fill="#8a8a8a" fill-opacity="0.9"/>
<circle cx="476.0" cy="263.9" r="1.2" fill="#8a8a8a" fill-opacity="0.9"/>
<circle cx="482.7" cy="263.9" r="1.2" fill="#8a8a8a" fill-opacity="0.9"/>
<circle cx="489.7" cy="263.9" r="1.2" fill="#8a8a8a" fill-opacity="0.9"/>
<circle cx="493.1" cy="263.9" r="1.2" fill="#8a8a8a" fill-opacity="0.9"/>
<circle cx="495.0" cy="263.9" r="1.2" fill="#8a8a8a" fill-opacity="0.9"/>
<circle cx="500.3" cy="263.9" r="1.2" fill="#8a8a8a" fill-opacity="0.9"/>
<circle cx="491.2" cy="277.7" r="1.2" fill="#8a8a8a" fill-opacity="0.9"/>
<circle cx="495.0" cy="277.7" r="1.2" fill="#8a8a8a" fill-opacity="0.9"/>
<circle cx="496.9" cy="277.7" r="1.2" fill="#8a8a8a" fill-opacity="0.9"/>
<circle cx="499.2" cy="277.7" r="1.2" fill="#8a8a8a" fill-opacity="0.9"/>
<circle cx="501.1" cy="277.7" r="1.2" fill="#8a8a8a" fill-opacity="0.9"/>
<circle cx="515.5" cy="277.7" r="1.2" fill="#8a8a8a" fill-opacity="0.9"/>
<circle cx="521.2" cy="277.7" r="1.2" fill="#8a8a8a" fill-opacity="0.9"/>
<circle cx="523.1" cy="277.7" r="1.2" fill="#8a8a8a" fill-opacity="0.9"/>
<circle cx="474.2" cy="291.5" r="1.2" fill="#8a8a8a" fill-opacity="0.9"/>
<circle cx="479.8" cy="291.5" r="1.2" fill="#8a8a8a" fill-opacity="0.9"/>
<circle cx="481.7" cy="291.5" r="1.2" fill="#8a8a8a" fill-opacity="0.9"/>
<circle cx="485.2" cy="291.5" r="1.2" fill="#8a8a8a" fill-opacity="0.9"/>
<circle cx="510.6" cy="291.5" r="1.2" fill="#8a8a8a" fill-opacity="0.9"/>
<circle cx="521.2" cy="291.5" r="1.2" fill="#8a8a8a" fill-opacity="0.9"/>
<circle cx="473.8" cy="305.3" r="1.2" fill="#8a8a8a" fill-opacity="0.9"/>
<circle cx="476.0" cy="305.3" r="1.2" fill="#8a8a8a" fill-opacity="0.9"/>
<circle cx="478.9" cy="305.3" r="1.2" fill="#8a8a8a" fill-opacity="0.9"/>
<circle cx="489.7" cy="305.3" r="1.2" fill="#8a8a8a" fill-opacity="0.9"/>
<circle cx="491.6" cy="305.3" r="1.2" fill="#8a8a8a" fill-opacity="0.9"/>
<circle cx="494.1" cy="305.3" r="1.2" fill="#8a8a8a" fill-opacity="0.9"/>
<circle cx="500.3" cy="305.3" r="1.2" fill="#8a8a8a" fill-opacity="0.9"/>
<circle cx="472.3" cy="319.3" r="1.2" fill="#8a8a8a" fill-opacity="0.9"/>
<circle cx="476.0" cy="319.3" r="1.2" fill="#8a8a8a" fill-opacity="0.9"/>
<circle cx="481.4" cy="319.3" r="1.2" fill="#8a8a8a" fill-opacity="0.9"/>
<circle cx="492.2" cy="319.3" r="1.2" fill="#8a8a8a" fill-opacity="0.9"/>
<circle cx="494.1" cy="319.3" r="1.2" fill="#8a8a8a" fill-opacity="0.9"/>
<circle cx="498.8" cy="319.3" r="1.2" fill="#8a8a8a" fill-opacity="0.9"/>
<circle cx="505.5" cy="319.3" r="1.2" fill="#8a8a8a" fill-opacity="0.9"/>
<circle cx="479.5" cy="333.4" r="1.2" fill="#8a8a8a" fill-opacity="0.9"/>
<circle cx="486.5" cy="333.4" r="1.2" fill="#8a8a8a" fill-opacity="0.9"/>
<circle cx="489.7" cy="333.4" r="1.2" fill="#8a8a8a" fill-opacity="0.9"/>
<circle cx="492.2" cy="333.4" r="1.2" fill="#8a8a8a" fill-opacity="0.9"/>
<circle cx="521.2" cy="333.4" r="1.2" fill="#8a8a8a" fill-opacity="0.9"/>
<circle cx="478.9" cy="347.6" r="1.2" fill="#8a8a8a" fill-opacity="0.9"/>
<circle cx="480.8" cy="347.6" r="1.2" fill="#8a8a8a" fill-opacity="0.9"/>
<circle cx="482.7" cy="347.6" r="1.2" fill="#8a8a8a" fill-opacity="0.9"/>
<circle cx="484.6" cy="347.6" r="1.2" fill="#8a8a8a" fill-opacity="0.9"/>
<circle cx="498.4" cy="347.6" r="1.2" fill="#8a8a8a" fill-opacity="0.9"/>
<circle cx="501.7" cy="347.6" r="1.2" fill="#8a8a8a" fill-opacity="0.9"/>
<circle cx="506.8" cy="347.6" r="1.2" fill="#8a8a8a" fill-opacity="0.9"/>
<circle cx="485.9" cy="361.6" r="1.2" fill="#8a8a8a" fill-opacity="0.9"/>
<circle cx="491.2" cy="361.6" r="1.2" fill="#8a8a8a" fill-opacity="0.9"/>
<circle cx="493.5" cy="361.6" r="1.2" fill="#8a8a8a" fill-opacity="0.9"/>
<circle cx="495.5" cy="361.6" r="1.2" fill="#8a8a8a" fill-opacity="0.9"/>
<circle cx="497.5" cy="361.6" r="1.2" fill="#8a8a8a" fill-opacity="0.9"/>
<circle cx="506.8" cy="361.6" r="1.2" fill="#8a8a8a" fill-opacity="0.9"/>
<circle cx="568.1" cy="361.6" r="1.2" fill="#8a8a8a" fill-opacity="0.9"/>
<circle cx="473.8" cy="375.7" r="1.2" fill="#8a8a8a" fill-opacity="0.9"/>
<circle cx="475.7" cy="375.7" r="1.2" fill="#8a8a8a" fill-opacity="0.9"/>
<circle cx="489.7" cy="375.7" r="1.2" fill="#8a8a8a" fill-opacity="0.9"/>
<circle cx="498.4" cy="375.7" r="1.2" fill="#8a8a8a" fill-opacity="0.9"/>
<circle cx="480.8" cy="389.8" r="1.2" fill="#8a8a8a" fill-opacity="0.9"/>
<circle cx="482.7" cy="389.8" r="1.2" fill="#8a8a8a" fill-opacity="0.9"/>
<circle cx="484.6" cy="389.8" r="1.2" fill="#8a8a8a" fill-opacity="0.9"/>
<circle cx="489.7" cy="389.8" r="1.2" fill="#8a8a8a" fill-opacity="0.9"/>
<circle cx="492.8" cy="389.8" r="1.2" fill="#8a8a8a" fill-opacity="0.9"/>
<circle cx="502.2" cy="389.8" r="1.2" fill="#8a8a8a" fill-opacity="0.9"/>
<circle cx="514.0" cy="389.8" r="1.2" fill="#8a8a8a" fill-opacity="0.9"/>
<circle cx="526.3" cy="389.8" r="1.2" fill="#8a8a8a" fill-opacity="0.9"/>
<circle cx="470.7" cy="404.0" r="1.2" fill="#8a8a8a" fill-opacity="0.9"/>
<circle cx="477.6" cy="404.0" r="1.2" fill="#8a8a8a" fill-opacity="0.9"/>
<circle cx="479.5" cy="404.0" r="1.2" fill="#8a8a8a" fill-opacity="0.9"/>
<circle cx="481.4" cy="404.0" r="1.2" fill="#8a8a8a" fill-opacity="0.9"/>
<circle cx="483.3" cy="404.0" r="1.2" fill="#8a8a8a" fill-opacity="0.9"/>
<circle cx="485.2" cy="404.0" r="1.2" fill="#8a8a8a" fill-opacity="0.9"/>
<circle cx="512.1" cy="404.0" r="1.2" fill="#8a8a8a" fill-opacity="0.9"/>
<circle cx="515.5" cy="404.0" r="1.2" fill="#8a8a8a" fill-opacity="0.9"/>
<circle cx="477.6" cy="418.2" r="1.2" fill="#8a8a8a" fill-opacity="0.9"/>
<circle cx="479.5" cy="418.2" r="1.2" fill="#8a8a8a" fill-opacity="0.9"/>
<circle cx="484.6" cy="418.2" r="1.2" fill="#8a8a8a" fill-opacity="0.9"/>
<circle cx="510.6" cy="418.2" r="1.2" fill="#8a8a8a" fill-opacity="0.9"/>
<circle cx="519.3" cy="418.2" r="1.2" fill="#8a8a8a" fill-opacity="0.9"/>
<circle cx="524.4" cy="418.2" r="1.2" fill="#8a8a8a" fill-opacity="0.9"/>
<circle cx="526.3" cy="418.2" r="1.2" fill="#8a8a8a" fill-opacity="0.9"/>
<circle cx="462.4" cy="432.2" r="1.2" fill="#8a8a8a" fill-opacity="0.9"/>
<circle cx="472.6" cy="432.2" r="1.2" fill="#8a8a8a" fill-opacity="0.9"/>
<circle cx="477.6" cy="432.2" r="1.2" fill="#8a8a8a" fill-opacity="0.9"/>
<circle cx="479.8" cy="432.2" r="1.2" fill="#8a8a8a" fill-opacity="0.9"/>
<circle cx="496.0" cy="432.2" r="1.2" fill="#8a8a8a" fill-opacity="0.9"/>
<circle cx="504.1" cy="432.2" r="1.2" fill="#8a8a8a" fill-opacity="0.9"/>
<circle cx="519.3" cy="432.2" r="1.2" fill="#8a8a8a" fill-opacity="0.9"/>
<circle cx="540.2" cy="432.2" r="1.2" fill="#8a8a8a" fill-opacity="0.9"/>
<circle cx="477.6" cy="446.3" r="1.2" fill="#8a8a8a" fill-opacity="0.9"/>
<circle cx="483.3" cy="446.3" r="1.2" fill="#8a8a8a" fill-opacity="0.9"/>
<circle cx="500.3" cy="446.3" r="1.2" fill="#8a8a8a" fill-opacity="0.9"/>
<circle cx="504.9" cy="446.3" r="1.2" fill="#8a8a8a" fill-opacity="0.9"/>
<circle cx="509.3" cy="446.3" r="1.2" fill="#8a8a8a" fill-opacity="0.9"/>
<circle cx="462.4" cy="460.1" r="1.2" fill="#8a8a8a" fill-opacity="0.9"/>
<circle cx="464.3" cy="460.1" r="1.2" fill="#8a8a8a" fill-opacity="0.9"/>
<circle cx="470.7" cy="460.1" r="1.2" fill="#8a8a8a" fill-opacity="0.9"/>
<circle cx="484.6" cy="460.1" r="1.2" fill="#8a8a8a" fill-opacity="0.9"/>
<circle cx="489.7" cy="460.1" r="1.2" fill="#8a8a8a" fill-opacity="0.9"/>
<circle cx="498.4" cy="460.1" r="1.2" fill="#8a8a8a" fill-opacity="0.9"/>
<circle cx="484.6" cy="474.1" r="1.2" fill="#8a8a8a" fill-opacity="0.9"/>
<circle cx="486.5" cy="474.1" r="1.2" fill="#8a8a8a" fill-opacity="0.9"/>
<circle cx="489.7" cy="474.1" r="1.2" fill="#8a8a8a" fill-opacity="0.9"/>
<circle cx="493.1" cy="474.1" r="1.2" fill="#8a8a8a" fill-opacity="0.9"/>
<circle cx="498.8" cy="474.1" r="1.2" fill="#8a8a8a" fill-opacity="0.9"/>
<circle cx="501.1" cy="474.1" r="1.2" fill="#8a8a8a" fill-opacity="0.9"/>
<circle cx="503.6" cy="474.1" r="1.2" fill="#8a8a8a" fill-opacity="0.9"/>
<circle cx="486.5" cy="488.4" r="1.2" fill="#8a8a8a" fill-opacity="0.9"/>
<circle cx="489.7" cy="488.4" r="1.2" fill="#8a8a8a" fill-opacity="0.9"/>
<circle cx="496.5" cy="488.4" r="1.2" fill="#8a8a8a" fill-opacity="0.9"/>
<circle cx="500.3" cy="488.4" r="1.2" fill="#8a8a8a" fill-opacity="0.9"/>
<circle cx="511.7" cy="488.4" r="1.2" fill="#8a8a8a" fill-opacity="0.9"/>
<circle cx="602.3" cy="488.4" r="1.2" fill="#8a8a8a" fill-opacity="0.9"/>
<circle cx="474.2" cy="502.7" r="1.2" fill="#8a8a8a" fill-opacity="0.9"/>
<circle cx="484.6" cy="502.7" r="1.2" fill="#8a8a8a" fill-opacity="0.9"/>
<circle cx="486.5" cy="502.7" r="1.2" fill="#8a8a8a" fill-opacity="0.9"/>
<circle cx="498.4" cy="502.7" r="1.2" fill="#8a8a8a" fill-opacity="0.9"/>
<circle cx="509.3" cy="502.7" r="1.2" fill="#8a8a8a" fill-opacity="0.9"/>
<circle cx="465.6" cy="516.7" r="1.2" fill="#8a8a8a" fill-opacity="0.9"/>
<circle cx="477.6" cy="516.7" r="1.2" fill="#8a8a8a" fill-opacity="0.9"/>
<circle cx="479.5" cy="516.7" r="1.2" fill="#8a8a8a" fill-opacity="0.9"/>
<circle cx="489.7" cy="516.7" r="1.2" fill="#8a8a8a" fill-opacity="0.9"/>
<circle cx="493.1" cy="516.7" r="1.2" fill="#8a8a8a" fill-opacity="0.9"/>
<circle cx="495.4" cy="516.7" r="1.2" fill="#8a8a8a" fill-opacity="0.9"/>
<circle cx="500.3" cy="516.7" r="1.2" fill="#8a8a8a" fill-opacity="0.9"/>
<circle cx="484.6" cy="530.8" r="1.2" fill="#8a8a8a" fill-opacity="0.9"/>
<circle cx="486.5" cy="530.8" r="1.2" fill="#8a8a8a" fill-opacity="0.9"/>
<circle cx="489.7" cy="530.8" r="1.2" fill="#8a8a8a" fill-opacity="0.9"/>
<circle cx="496.9" cy="530.8" r="1.2" fill="#8a8a8a" fill-opacity="0.9"/>
<circle cx="524.4" cy="530.8" r="1.2" fill="#8a8a8a" fill-opacity="0.9"/>
<circle cx="529.6" cy="530.8" r="1.2" fill="#8a8a8a" fill-opacity="0.9"/>
<circle cx="461.8" cy="544.9" r="1.2" fill="#8a8a8a" fill-opacity="0.9"/>
<circle cx="467.5" cy="544.9" r="1.2" fill="#8a8a8a" fill-opacity="0.9"/>
<circle cx="478.9" cy="544.9" r="1.2" fill="#8a8a8a" fill-opacity="0.9"/>
<circle cx="481.7" cy="544.9" r="1.2" fill="#8a8a8a" fill-opacity="0.9"/>
<circle cx="484.0" cy="544.9" r="1.2" fill="#8a8a8a" fill-opacity="0.9"/>
<circle cx="486.5" cy="544.9" r="1.2" fill="#8a8a8a" fill-opacity="0.9"/>
<circle cx="510.6" cy="544.9" r="1.2" fill="#8a8a8a" fill-opacity="0.9"/>
<circle cx="453.7" cy="558.5" r="1.2" fill="#8a8a8a" fill-opacity="0.9"/>
<circle cx="460.5" cy="558.5" r="1.2" fill="#8a8a8a" fill-opacity="0.9"/>
<circle cx="467.5" cy="558.5" r="1.2" fill="#8a8a8a" fill-opacity="0.9"/>
<circle cx="478.0" cy="558.5" r="1.2" fill="#8a8a8a" fill-opacity="0.9"/>
<circle cx="491.6" cy="558.5" r="1.2" fill="#8a8a8a" fill-opacity="0.9"/>
<circle cx="496.9" cy="558.5" r="1.2" fill="#8a8a8a" fill-opacity="0.9"/>
<circle cx="531.5" cy="558.5" r="1.2" fill="#8a8a8a" fill-opacity="0.9"/>
<circle cx="480.8" cy="572.0" r="1.2" fill="#8a8a8a" fill-opacity="0.9"/>
<circle cx="485.5" cy="572.0" r="1.2" fill="#8a8a8a" fill-opacity="0.9"/>
<circle cx="489.7" cy="572.0" r="1.2" fill="#8a8a8a" fill-opacity="0.9"/>
<circle cx="499.8" cy="572.0" r="1.2" fill="#8a8a8a" fill-opacity="0.9"/>
<circle cx="501.7" cy="572.0" r="1.2" fill="#8a8a8a" fill-opacity="0.9"/>
<circle cx="476.0" cy="585.8" r="1.2" fill="#8a8a8a" fill-opacity="0.9"/>
<circle cx="484.6" cy="585.8" r="1.2" fill="#8a8a8a" fill-opacity="0.9"/>
<circle cx="503.6" cy="585.8" r="1.2" fill="#8a8a8a" fill-opacity="0.9"/>
<circle cx="505.5" cy="585.8" r="1.2" fill="#8a8a8a" fill-opacity="0.9"/>
<circle cx="476.0" cy="599.8" r="1.2" fill="#8a8a8a" fill-opacity="0.9"/>
<circle cx="478.0" cy="599.8" r="1.2" fill="#8a8a8a" fill-opacity="0.9"/>
<circle cx="483.3" cy="599.8" r="1.2" fill="#8a8a8a" fill-opacity="0.9"/>
<circle cx="485.2" cy="599.8" r="1.2" fill="#8a8a8a" fill-opacity="0.9"/>
<circle cx="527.7" cy="599.8" r="1.2" fill="#8a8a8a" fill-opacity="0.9"/>
<circle cx="477.0" cy="613.9" r="1.2" fill="#8a8a8a" fill-opacity="0.9"/>
<circle cx="479.8" cy="613.9" r="1.2" fill="#8a8a8a" fill-opacity="0.9"/>
<circle cx="486.5" cy="613.9" r="1.2" fill="#8a8a8a" fill-opacity="0.9"/>
<circle cx="503.6" cy="613.9" r="1.2" fill="#8a8a8a" fill-opacity="0.9"/>
<circle cx="506.4" cy="613.9" r="1.2" fill="#8a8a8a" fill-opacity="0.9"/>
<circle cx="527.7" cy="613.9" r="1.2" fill="#8a8a8a" fill-opacity="0.9"/>
<circle cx="465.6" cy="627.9" r="1.2" fill="#8a8a8a" fill-opacity="0.9"/>
<circle cx="476.0" cy="627.9" r="1.2" fill="#8a8a8a" fill-opacity="0.9"/>
<circle cx="478.0" cy="627.9" r="1.2" fill="#8a8a8a" fill-opacity="0.9"/>
<circle cx="479.8" cy="627.9" r="1.2" fill="#8a8a8a" fill-opacity="0.9"/>
<circle cx="487.4" cy="627.9" r="1.2" fill="#8a8a8a" fill-opacity="0.9"/>
<circle cx="489.7" cy="627.9" r="1.2" fill="#8a8a8a" fill-opacity="0.9"/>
<circle cx="496.5" cy="627.9" r="1.2" fill="#8a8a8a" fill-opacity="0.9"/>
<circle cx="501.7" cy="627.9" r="1.2" fill="#8a8a8a" fill-opacity="0.9"/>
<circle cx="463.7" cy="641.5" r="1.2" fill="#8a8a8a" fill-opacity="0.9"/>
<circle cx="465.6" cy="641.5" r="1.2" fill="#8a8a8a" fill-opacity="0.9"/>
<circle cx="469.4" cy="641.5" r="1.2" fill="#8a8a8a" fill-opacity="0.9"/>
<circle cx="478.0" cy="641.5" r="1.2" fill="#8a8a8a" fill-opacity="0.9"/>
<circle cx="491.2" cy="641.5" r="1.2" fill="#8a8a8a" fill-opacity="0.9"/>
<circle cx="495.0" cy="641.5" r="1.2" fill="#8a8a8a" fill-opacity="0.9"/>
<circle cx="541.5" cy="641.5" r="1.2" fill="#8a8a8a" fill-opacity="0.9"/>
<circle cx="553.9" cy="641.5" r="1.2" fill="#8a8a8a" fill-opacity="0.9"/>
<circle cx="565.6" cy="641.5" r="1.2" fill="#8a8a8a" fill-opacity="0.9"/>
<circle cx="465.6" cy="655.3" r="1.2" fill="#8a8a8a" fill-opacity="0.9"/>
<circle cx="478.0" cy="655.3" r="1.2" fill="#8a8a8a" fill-opacity="0.9"/>
<circle cx="489.7" cy="655.3" r="1.2" fill="#8a8a8a" fill-opacity="0.9"/>
<circle cx="491.6" cy="655.3" r="1.2" fill="#8a8a8a" fill-opacity="0.9"/>
<circle cx="493.5" cy="655.3" r="1.2" fill="#8a8a8a" fill-opacity="0.9"/>
<circle cx="463.7" cy="669.4" r="1.2" fill="#8a8a8a" fill-opacity="0.9"/>
<circle cx="465.6" cy="669.4" r="1.2" fill="#8a8a8a" fill-opacity="0.9"/>
<circle cx="473.2" cy="669.4" r="1.2" fill="#8a8a8a" fill-opacity="0.9"/>
<circle cx="475.1" cy="669.4" r="1.2" fill="#8a8a8a" fill-opacity="0.9"/>
<circle cx="521.2" cy="669.4" r="1.2" fill="#8a8a8a" fill-opacity="0.9"/>
<circle cx="477.6" cy="683.7" r="1.2" fill="#8a8a8a" fill-opacity="0.9"/>
<circle cx="479.5" cy="683.7" r="1.2" fill="#8a8a8a" fill-opacity="0.9"/>
<circle cx="481.4" cy="683.7" r="1.2" fill="#8a8a8a" fill-opacity="0.9"/>
<circle cx="489.7" cy="683.7" r="1.2" fill="#8a8a8a" fill-opacity="0.9"/>
<circle cx="495.0" cy="683.7" r="1.2" fill="#8a8a8a" fill-opacity="0.9"/>
<circle cx="503.6" cy="683.7" r="1.2" fill="#8a8a8a" fill-opacity="0.9"/>
<circle cx="522.5" cy="683.7" r="1.2" fill="#8a8a8a" fill-opacity="0.9"/>
<line x1="451.2" y1="61.2" x2="676.6" y2="61.2" stroke="#3a3a3a" stroke-width="1.2"/>
<line x1="451.2" y1="61.2" x2="451.2" y2="683.7" stroke="#3a3a3a" stroke-width="1.2"/>
<line x1="488.4" y1="57.5" x2="488.4" y2="688.2" stroke="#3a3a3a" stroke-width="1.2"/>
<line x1="519.4" y1="57.8" x2="519.4" y2="61.2" stroke="#3a3a3a" stroke-width="1"/>
<line x1="550.5" y1="57.8" x2="550.5" y2="61.2" stroke="#3a3a3a" stroke-width="1"/>
<line x1="581.5" y1="57.8" x2="581.5" y2="61.2" stroke="#3a3a3a" stroke-width="1"/>
<line x1="612.6" y1="57.8" x2="612.6" y2="61.2" stroke="#3a3a3a" stroke-width="1"/>
<line x1="643.6" y1="57.8" x2="643.6" y2="61.2" stroke="#3a3a3a" stroke-width="1"/>
<line x1="674.7" y1="57.8" x2="674.7" y2="61.2" stroke="#3a3a3a" stroke-width="1"/>
<text x="488.4" y="55.8" text-anchor="middle" font-size="10" fill="#1e1e1e" class="l">0</text>
<text x="519.4" y="55.8" text-anchor="middle" font-size="10" fill="#1e1e1e" class="l">10</text>
<text x="550.5" y="55.8" text-anchor="middle" font-size="10" fill="#1e1e1e" class="l">20</text>
<text x="581.5" y="55.8" text-anchor="middle" font-size="10" fill="#1e1e1e" class="l">30</text>
<text x="612.6" y="55.8" text-anchor="middle" font-size="10" fill="#1e1e1e" class="l">40</text>
<text x="643.6" y="55.8" text-anchor="middle" font-size="10" fill="#1e1e1e" class="l">50</text>
<text x="674.7" y="55.8" text-anchor="middle" font-size="10" fill="#1e1e1e" class="l">60</text>
<line x1="444.9" y1="82.0" x2="451.2" y2="82.0" stroke="#3a3a3a" stroke-width="1.2"/>
<text x="440.2" y="85.8" text-anchor="end" font-size="12.3" fill="#1e1e1e" class="l">mineral oil</text>
<line x1="444.9" y1="95.8" x2="451.2" y2="95.8" stroke="#3a3a3a" stroke-width="1.2"/>
<text transform="matrix(0.93,0,0,1,30.81,0)" x="440.2" y="99.6" text-anchor="end" font-size="12.3" fill="#1e1e1e" class="l">isopentyl aceate</text>
<line x1="444.9" y1="109.4" x2="451.2" y2="109.4" stroke="#3a3a3a" stroke-width="1.2"/>
<text x="440.2" y="113.2" text-anchor="end" font-size="12.3" fill="#1e1e1e" class="l">2-butanone</text>
<line x1="444.9" y1="123.3" x2="451.2" y2="123.3" stroke="#3a3a3a" stroke-width="1.2"/>
<text x="440.2" y="127.1" text-anchor="end" font-size="12.3" fill="#1e1e1e" class="l">(Z)-3-hexen-1-ol</text>
<line x1="444.9" y1="137.4" x2="451.2" y2="137.4" stroke="#3a3a3a" stroke-width="1.2"/>
<text x="440.2" y="141.2" text-anchor="end" font-size="12.3" fill="#1e1e1e" class="l">1-butanol</text>
<line x1="444.9" y1="151.5" x2="451.2" y2="151.5" stroke="#3a3a3a" stroke-width="1.2"/>
<text x="440.2" y="155.3" text-anchor="end" font-size="12.3" fill="#1e1e1e" class="l">2-heptanone</text>
<line x1="444.9" y1="165.5" x2="451.2" y2="165.5" stroke="#3a3a3a" stroke-width="1.2"/>
<text x="440.2" y="169.3" text-anchor="end" font-size="12.3" fill="#1e1e1e" class="l">2-hexanone</text>
<line x1="444.9" y1="179.7" x2="451.2" y2="179.7" stroke="#3a3a3a" stroke-width="1.2"/>
<text x="440.2" y="183.5" text-anchor="end" font-size="12.3" fill="#1e1e1e" class="l">(E)-2-hexen-1-ol</text>
<line x1="444.9" y1="193.7" x2="451.2" y2="193.7" stroke="#3a3a3a" stroke-width="1.2"/>
<text x="440.2" y="197.5" text-anchor="end" font-size="12.3" fill="#1e1e1e" class="l">geraniol</text>
<line x1="444.9" y1="207.8" x2="451.2" y2="207.8" stroke="#3a3a3a" stroke-width="1.2"/>
<text x="440.2" y="211.6" text-anchor="end" font-size="12.3" fill="#1e1e1e" class="l">isovaleric acid</text>
<line x1="444.9" y1="221.8" x2="451.2" y2="221.8" stroke="#3a3a3a" stroke-width="1.2"/>
<text x="440.2" y="225.7" text-anchor="end" font-size="12.3" fill="#1e1e1e" class="l">linalool</text>
<line x1="444.9" y1="235.9" x2="451.2" y2="235.9" stroke="#3a3a3a" stroke-width="1.2"/>
<text x="440.2" y="239.7" text-anchor="end" font-size="12.3" fill="#1e1e1e" class="l">benzyl alcohol</text>
<line x1="444.9" y1="250.0" x2="451.2" y2="250.0" stroke="#3a3a3a" stroke-width="1.2"/>
<text x="440.2" y="253.8" text-anchor="end" font-size="12.3" fill="#1e1e1e" class="l">α-pinene</text>
<line x1="444.9" y1="263.9" x2="451.2" y2="263.9" stroke="#3a3a3a" stroke-width="1.2"/>
<text x="440.2" y="267.7" text-anchor="end" font-size="12.3" fill="#1e1e1e" class="l">octanoic acid</text>
<line x1="444.9" y1="277.7" x2="451.2" y2="277.7" stroke="#3a3a3a" stroke-width="1.2"/>
<text x="440.2" y="281.5" text-anchor="end" font-size="12.3" fill="#1e1e1e" class="l">α-caryophyllene</text>
<line x1="444.9" y1="291.5" x2="451.2" y2="291.5" stroke="#3a3a3a" stroke-width="1.2"/>
<text x="440.2" y="295.3" text-anchor="end" font-size="12.3" fill="#1e1e1e" class="l">heptanoic acid</text>
<line x1="444.9" y1="305.3" x2="451.2" y2="305.3" stroke="#3a3a3a" stroke-width="1.2"/>
<text x="440.2" y="309.1" text-anchor="end" font-size="12.3" fill="#1e1e1e" class="l">2-oxooctanoic acid</text>
<line x1="444.9" y1="319.3" x2="451.2" y2="319.3" stroke="#3a3a3a" stroke-width="1.2"/>
<text x="440.2" y="323.1" text-anchor="end" font-size="12.3" fill="#1e1e1e" class="l">(±)-β-citronellol</text>
<line x1="444.9" y1="333.4" x2="451.2" y2="333.4" stroke="#3a3a3a" stroke-width="1.2"/>
<text x="440.2" y="337.2" text-anchor="end" font-size="12.3" fill="#1e1e1e" class="l">β-pinene</text>
<line x1="444.9" y1="347.6" x2="451.2" y2="347.6" stroke="#3a3a3a" stroke-width="1.2"/>
<text x="440.2" y="351.4" text-anchor="end" font-size="12.3" fill="#1e1e1e" class="l">hexanoic acid</text>
<line x1="444.9" y1="361.6" x2="451.2" y2="361.6" stroke="#3a3a3a" stroke-width="1.2"/>
<text x="440.2" y="365.4" text-anchor="end" font-size="12.3" fill="#1e1e1e" class="l">trans-2-nonenal</text>
<line x1="444.9" y1="375.7" x2="451.2" y2="375.7" stroke="#3a3a3a" stroke-width="1.2"/>
<text x="440.2" y="379.5" text-anchor="end" font-size="12.3" fill="#1e1e1e" class="l">eugenol</text>
<line x1="444.9" y1="389.8" x2="451.2" y2="389.8" stroke="#3a3a3a" stroke-width="1.2"/>
<text x="440.2" y="393.6" text-anchor="end" font-size="12.3" fill="#1e1e1e" class="l">citral</text>
<line x1="444.9" y1="404.0" x2="451.2" y2="404.0" stroke="#3a3a3a" stroke-width="1.2"/>
<text x="440.2" y="407.8" text-anchor="end" font-size="12.3" fill="#1e1e1e" class="l">(E)-2-octen-1-ol</text>
<line x1="444.9" y1="418.2" x2="451.2" y2="418.2" stroke="#3a3a3a" stroke-width="1.2"/>
<text x="440.2" y="422.0" text-anchor="end" font-size="12.3" fill="#1e1e1e" class="l">estragol</text>
<line x1="444.9" y1="432.2" x2="451.2" y2="432.2" stroke="#3a3a3a" stroke-width="1.2"/>
<text x="440.2" y="436.1" text-anchor="end" font-size="12.3" fill="#1e1e1e" class="l">3-carene</text>
<line x1="444.9" y1="446.3" x2="451.2" y2="446.3" stroke="#3a3a3a" stroke-width="1.2"/>
<text x="440.2" y="450.1" text-anchor="end" font-size="12.3" fill="#1e1e1e" class="l">isoamyl alcohol</text>
<line x1="444.9" y1="460.1" x2="451.2" y2="460.1" stroke="#3a3a3a" stroke-width="1.2"/>
<text x="440.2" y="463.9" text-anchor="end" font-size="12.3" fill="#1e1e1e" class="l">octanal</text>
<line x1="444.9" y1="474.1" x2="451.2" y2="474.1" stroke="#3a3a3a" stroke-width="1.2"/>
<text x="440.2" y="477.9" text-anchor="end" font-size="12.3" fill="#1e1e1e" class="l">nonanoic acid</text>
<line x1="444.9" y1="488.4" x2="451.2" y2="488.4" stroke="#3a3a3a" stroke-width="1.2"/>
<text x="440.2" y="492.2" text-anchor="end" font-size="12.3" fill="#1e1e1e" class="l">geranic acid</text>
<line x1="444.9" y1="502.7" x2="451.2" y2="502.7" stroke="#3a3a3a" stroke-width="1.2"/>
<text x="440.2" y="506.5" text-anchor="end" font-size="12.3" fill="#1e1e1e" class="l">β-caryophyllene</text>
<line x1="444.9" y1="516.7" x2="451.2" y2="516.7" stroke="#3a3a3a" stroke-width="1.2"/>
<text x="440.2" y="520.5" text-anchor="end" font-size="12.3" fill="#1e1e1e" class="l">pentanoic acid</text>
<line x1="444.9" y1="530.8" x2="451.2" y2="530.8" stroke="#3a3a3a" stroke-width="1.2"/>
<text x="440.2" y="534.6" text-anchor="end" font-size="12.3" fill="#1e1e1e" class="l">butyric acid</text>
<line x1="444.9" y1="544.9" x2="451.2" y2="544.9" stroke="#3a3a3a" stroke-width="1.2"/>
<text x="440.2" y="548.6" text-anchor="end" font-size="12.3" fill="#1e1e1e" class="l">limonene</text>
<line x1="444.9" y1="558.5" x2="451.2" y2="558.5" stroke="#3a3a3a" stroke-width="1.2"/>
<text x="440.2" y="562.3" text-anchor="end" font-size="12.3" fill="#1e1e1e" class="l">acetophenone</text>
<line x1="444.9" y1="572.0" x2="451.2" y2="572.0" stroke="#3a3a3a" stroke-width="1.2"/>
<text x="440.2" y="575.8" text-anchor="end" font-size="12.3" fill="#1e1e1e" class="l">lauric acid</text>
<line x1="444.9" y1="585.8" x2="451.2" y2="585.8" stroke="#3a3a3a" stroke-width="1.2"/>
<text x="440.2" y="589.6" text-anchor="end" font-size="12.3" fill="#1e1e1e" class="l">(E)-2-hexenal</text>
<line x1="444.9" y1="599.8" x2="451.2" y2="599.8" stroke="#3a3a3a" stroke-width="1.2"/>
<text x="440.2" y="603.5" text-anchor="end" font-size="12.3" fill="#1e1e1e" class="l">eucalyptol</text>
<line x1="444.9" y1="613.9" x2="451.2" y2="613.9" stroke="#3a3a3a" stroke-width="1.2"/>
<text x="440.2" y="617.6" text-anchor="end" font-size="12.3" fill="#1e1e1e" class="l">decanal</text>
<line x1="444.9" y1="627.9" x2="451.2" y2="627.9" stroke="#3a3a3a" stroke-width="1.2"/>
<text x="440.2" y="631.6" text-anchor="end" font-size="12.3" fill="#1e1e1e" class="l">1-octen-3-ol</text>
<line x1="444.9" y1="641.5" x2="451.2" y2="641.5" stroke="#3a3a3a" stroke-width="1.2"/>
<text x="440.2" y="645.3" text-anchor="end" font-size="12.3" fill="#1e1e1e" class="l">β-myrcene</text>
<line x1="444.9" y1="655.3" x2="451.2" y2="655.3" stroke="#3a3a3a" stroke-width="1.2"/>
<text x="440.2" y="659.1" text-anchor="end" font-size="12.3" fill="#1e1e1e" class="l">1-octanol</text>
<line x1="444.9" y1="669.4" x2="451.2" y2="669.4" stroke="#3a3a3a" stroke-width="1.2"/>
<text x="440.2" y="673.2" text-anchor="end" font-size="12.3" fill="#1e1e1e" class="l">benzaldehyde</text>
<line x1="444.9" y1="683.7" x2="451.2" y2="683.7" stroke="#3a3a3a" stroke-width="1.2"/>
<text x="440.2" y="687.5" text-anchor="end" font-size="12.3" fill="#1e1e1e" class="l">sulcatone</text>
<text x="651.3" y="105.9" text-anchor="middle" font-size="17" font-weight="bold" fill="#111">*</text>
<text x="664.3" y="118.8" text-anchor="middle" font-size="17" font-weight="bold" fill="#111">*</text>
<text x="582.4" y="132.9" text-anchor="middle" font-size="17" font-weight="bold" fill="#111">*</text>
<text x="555.2" y="161.0" text-anchor="middle" font-size="17" font-weight="bold" fill="#111">*</text>
<text x="582.1" y="175.1" text-anchor="middle" font-size="17" font-weight="bold" fill="#111">*</text>
</svg>
</body></html>
